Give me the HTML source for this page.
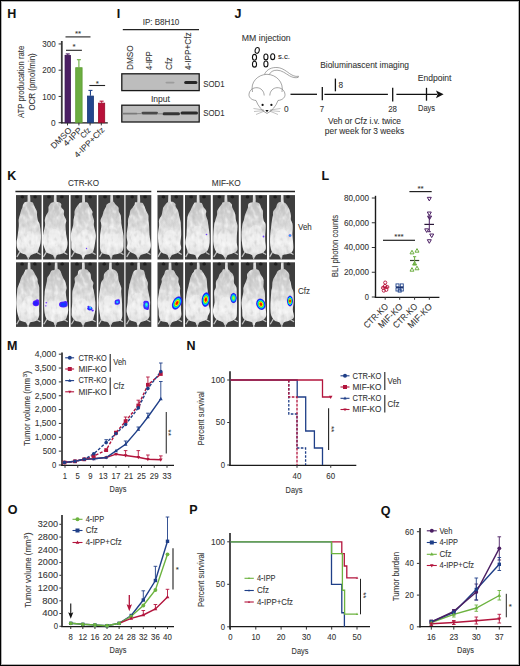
<!DOCTYPE html>
<html><head><meta charset="utf-8"><style>
html,body{margin:0;padding:0;background:#fff;}
.fig{position:relative;width:520px;height:666px;box-sizing:border-box;border:1px solid #000;overflow:hidden;background:#fff;box-shadow:inset 0 0 0 1px rgba(0,0,0,0.3);}
svg{position:absolute;left:-1px;top:-1px;font-family:"Liberation Sans", sans-serif;}
text{stroke:#333;stroke-width:0.08px;}
</style></head><body><div class="fig">
<svg width="520" height="666" viewBox="0 0 520 666">
<defs>
<filter id="bl1" x="-50%" y="-50%" width="200%" height="200%"><feGaussianBlur stdDeviation="0.75"/></filter>
<filter id="fur0" x="-10%" y="-10%" width="120%" height="120%"><feTurbulence type="fractalNoise" baseFrequency="0.24 0.15" numOctaves="2" seed="2" result="n"/>
<feColorMatrix in="n" type="matrix" values="0 0 0 0 0.45  0 0 0 0 0.45  0 0 0 0 0.45  -1.5 0 0 0 0.68" result="d"/>
<feColorMatrix in="n" type="matrix" values="0 0 0 0 1  0 0 0 0 1  0 0 0 0 1  1.6 0 0 0 -0.78" result="l"/>
<feComposite in="d" in2="SourceGraphic" operator="in" result="dn"/>
<feComposite in="l" in2="SourceGraphic" operator="in" result="ln"/>
<feMerge result="m"><feMergeNode in="SourceGraphic"/><feMergeNode in="dn"/><feMergeNode in="ln"/></feMerge>
<feGaussianBlur in="m" stdDeviation="0.55"/></filter>
<filter id="fur1" x="-10%" y="-10%" width="120%" height="120%"><feTurbulence type="fractalNoise" baseFrequency="0.24 0.15" numOctaves="2" seed="7" result="n"/>
<feColorMatrix in="n" type="matrix" values="0 0 0 0 0.45  0 0 0 0 0.45  0 0 0 0 0.45  -1.5 0 0 0 0.68" result="d"/>
<feColorMatrix in="n" type="matrix" values="0 0 0 0 1  0 0 0 0 1  0 0 0 0 1  1.6 0 0 0 -0.78" result="l"/>
<feComposite in="d" in2="SourceGraphic" operator="in" result="dn"/>
<feComposite in="l" in2="SourceGraphic" operator="in" result="ln"/>
<feMerge result="m"><feMergeNode in="SourceGraphic"/><feMergeNode in="dn"/><feMergeNode in="ln"/></feMerge>
<feGaussianBlur in="m" stdDeviation="0.55"/></filter>
<filter id="fur2" x="-10%" y="-10%" width="120%" height="120%"><feTurbulence type="fractalNoise" baseFrequency="0.24 0.15" numOctaves="2" seed="12" result="n"/>
<feColorMatrix in="n" type="matrix" values="0 0 0 0 0.45  0 0 0 0 0.45  0 0 0 0 0.45  -1.5 0 0 0 0.68" result="d"/>
<feColorMatrix in="n" type="matrix" values="0 0 0 0 1  0 0 0 0 1  0 0 0 0 1  1.6 0 0 0 -0.78" result="l"/>
<feComposite in="d" in2="SourceGraphic" operator="in" result="dn"/>
<feComposite in="l" in2="SourceGraphic" operator="in" result="ln"/>
<feMerge result="m"><feMergeNode in="SourceGraphic"/><feMergeNode in="dn"/><feMergeNode in="ln"/></feMerge>
<feGaussianBlur in="m" stdDeviation="0.55"/></filter>
<filter id="fur3" x="-10%" y="-10%" width="120%" height="120%"><feTurbulence type="fractalNoise" baseFrequency="0.24 0.15" numOctaves="2" seed="17" result="n"/>
<feColorMatrix in="n" type="matrix" values="0 0 0 0 0.45  0 0 0 0 0.45  0 0 0 0 0.45  -1.5 0 0 0 0.68" result="d"/>
<feColorMatrix in="n" type="matrix" values="0 0 0 0 1  0 0 0 0 1  0 0 0 0 1  1.6 0 0 0 -0.78" result="l"/>
<feComposite in="d" in2="SourceGraphic" operator="in" result="dn"/>
<feComposite in="l" in2="SourceGraphic" operator="in" result="ln"/>
<feMerge result="m"><feMergeNode in="SourceGraphic"/><feMergeNode in="dn"/><feMergeNode in="ln"/></feMerge>
<feGaussianBlur in="m" stdDeviation="0.55"/></filter>
<filter id="bl3" x="-50%" y="-50%" width="200%" height="200%"><feGaussianBlur stdDeviation="0.45"/></filter>
<filter id="bl2" x="-20%" y="-20%" width="140%" height="140%"><feGaussianBlur stdDeviation="0.5"/></filter>
<linearGradient id="mg" x1="0" y1="0" x2="0" y2="1"><stop offset="0.1" stop-color="#c8c8c8"/><stop offset="0.45" stop-color="#dcdcdc"/><stop offset="0.75" stop-color="#efefef"/><stop offset="1" stop-color="#d6d6d6"/></linearGradient>
<radialGradient id="bh"><stop offset="0" stop-color="#e80000"/><stop offset="0.22" stop-color="#ff3000"/><stop offset="0.38" stop-color="#ffe000"/><stop offset="0.52" stop-color="#30f040"/><stop offset="0.66" stop-color="#00d0ff"/><stop offset="0.82" stop-color="#0030ff"/><stop offset="1" stop-color="#5010e0" stop-opacity="0.85"/></radialGradient>
<radialGradient id="bw"><stop offset="0" stop-color="#ffe000"/><stop offset="0.35" stop-color="#40ff60"/><stop offset="0.6" stop-color="#00b0ff"/><stop offset="0.85" stop-color="#1020ff"/><stop offset="1" stop-color="#6020c0" stop-opacity="0.6"/></radialGradient>
<radialGradient id="bb"><stop offset="0" stop-color="#2040ff"/><stop offset="0.7" stop-color="#1818f0"/><stop offset="1" stop-color="#5020d0" stop-opacity="0.6"/></radialGradient>
<radialGradient id="bc"><stop offset="0" stop-color="#40e0ff"/><stop offset="0.45" stop-color="#00a0ff"/><stop offset="0.8" stop-color="#2020ff"/><stop offset="1" stop-color="#5020d0" stop-opacity="0.6"/></radialGradient>
</defs>
<text x="7.20" y="17.60" font-size="12.5" fill="#111" font-weight="bold">H</text>
<line x1="61.80" y1="41.00" x2="61.80" y2="123.30" stroke="#3a3a3a" stroke-width="1.8"/>
<line x1="60.90" y1="122.80" x2="107.80" y2="122.80" stroke="#1a1a1a" stroke-width="1.3"/>
<line x1="58.60" y1="122.70" x2="61.50" y2="122.70" stroke="#333" stroke-width="1"/>
<text x="55.70" y="125.80" font-size="8.8" fill="#333" text-anchor="end" textLength="4.60" lengthAdjust="spacingAndGlyphs">0</text>
<line x1="58.60" y1="96.45" x2="61.50" y2="96.45" stroke="#333" stroke-width="1"/>
<text x="55.70" y="99.55" font-size="8.8" fill="#333" text-anchor="end" textLength="13.40" lengthAdjust="spacingAndGlyphs">100</text>
<line x1="58.60" y1="70.20" x2="61.50" y2="70.20" stroke="#333" stroke-width="1"/>
<text x="55.70" y="73.30" font-size="8.8" fill="#333" text-anchor="end" textLength="13.40" lengthAdjust="spacingAndGlyphs">200</text>
<line x1="58.60" y1="43.95" x2="61.50" y2="43.95" stroke="#333" stroke-width="1"/>
<text x="55.70" y="47.05" font-size="8.8" fill="#333" text-anchor="end" textLength="13.40" lengthAdjust="spacingAndGlyphs">300</text>
<line x1="67.75" y1="54.97" x2="67.75" y2="53.92" stroke="#4b1f63" stroke-width="1.1"/>
<line x1="65.75" y1="53.92" x2="69.75" y2="53.92" stroke="#4b1f63" stroke-width="1.1"/>
<rect x="65.05" y="55.37" width="5.40" height="67.33" fill="#4b1f63" stroke="#3a1452" stroke-width="0.8"/>
<line x1="78.90" y1="67.31" x2="78.90" y2="59.70" stroke="#6cae40" stroke-width="1.1"/>
<line x1="76.90" y1="59.70" x2="80.90" y2="59.70" stroke="#6cae40" stroke-width="1.1"/>
<rect x="75.70" y="67.71" width="6.40" height="54.99" fill="#6cae40" stroke="#5c9c32" stroke-width="0.8"/>
<line x1="90.45" y1="95.66" x2="90.45" y2="90.41" stroke="#23468d" stroke-width="1.1"/>
<line x1="88.45" y1="90.41" x2="92.45" y2="90.41" stroke="#23468d" stroke-width="1.1"/>
<rect x="87.40" y="96.06" width="6.10" height="26.64" fill="#23468d" stroke="#1a3a78" stroke-width="0.8"/>
<line x1="101.60" y1="102.75" x2="101.60" y2="101.17" stroke="#b8113a" stroke-width="1.1"/>
<line x1="99.60" y1="101.17" x2="103.60" y2="101.17" stroke="#b8113a" stroke-width="1.1"/>
<rect x="98.50" y="103.15" width="6.20" height="19.55" fill="#b8113a" stroke="#980a2a" stroke-width="0.8"/>
<line x1="67.50" y1="122.70" x2="67.50" y2="125.40" stroke="#333" stroke-width="1"/>
<line x1="78.90" y1="122.70" x2="78.90" y2="125.40" stroke="#333" stroke-width="1"/>
<line x1="90.10" y1="122.70" x2="90.10" y2="125.40" stroke="#333" stroke-width="1"/>
<line x1="101.30" y1="122.70" x2="101.30" y2="125.40" stroke="#333" stroke-width="1"/>
<line x1="65.50" y1="36.90" x2="90.50" y2="36.90" stroke="#222" stroke-width="1.1"/>
<line x1="66.00" y1="50.30" x2="81.90" y2="50.30" stroke="#222" stroke-width="1.1"/>
<line x1="89.30" y1="85.50" x2="105.10" y2="85.50" stroke="#222" stroke-width="1.1"/>
<text x="78.00" y="35.50" font-size="8" fill="#333" text-anchor="middle">**</text>
<text x="74.00" y="49.00" font-size="8" fill="#333" text-anchor="middle">*</text>
<text x="97.40" y="85.50" font-size="8" fill="#333" text-anchor="middle">*</text>
<text x="24.20" y="81.90" font-size="8.2" fill="#333" text-anchor="middle" textLength="72.40" lengthAdjust="spacingAndGlyphs" transform="rotate(-90 24.20 81.90)">ATP producation rate</text>
<text x="35.00" y="81.90" font-size="8.2" fill="#333" text-anchor="middle" textLength="57.30" lengthAdjust="spacingAndGlyphs" transform="rotate(-90 35.00 81.90)">OCR (pmol/min)</text>
<text x="72.30" y="130.80" font-size="8.2" fill="#333" text-anchor="end" textLength="26.00" lengthAdjust="spacingAndGlyphs" transform="rotate(-45 72.30 130.80)">DMSO</text>
<text x="82.40" y="130.80" font-size="8.2" fill="#333" text-anchor="end" textLength="22.50" lengthAdjust="spacingAndGlyphs" transform="rotate(-45 82.40 130.80)">4-IPP</text>
<text x="91.20" y="131.00" font-size="8.2" fill="#333" text-anchor="end" textLength="11.00" lengthAdjust="spacingAndGlyphs" transform="rotate(-45 91.20 131.00)">Cfz</text>
<text x="105.00" y="130.60" font-size="8.2" fill="#333" text-anchor="end" textLength="39.00" lengthAdjust="spacingAndGlyphs" transform="rotate(-45 105.00 130.60)">4-IPP+Cfz</text>
<text x="116.80" y="17.60" font-size="12.5" fill="#111" font-weight="bold">I</text>
<text x="161.00" y="24.50" font-size="8.3" fill="#333" text-anchor="middle" textLength="36.70" lengthAdjust="spacingAndGlyphs">IP: B8H10</text>
<line x1="122.80" y1="29.70" x2="199.00" y2="29.70" stroke="#222" stroke-width="1.3"/>
<text x="133.00" y="70.00" font-size="8.3" fill="#333" textLength="24.70" lengthAdjust="spacingAndGlyphs" transform="rotate(-90 133.00 70.00)">DMSO</text>
<text x="152.10" y="70.00" font-size="8.3" fill="#333" textLength="18.70" lengthAdjust="spacingAndGlyphs" transform="rotate(-90 152.10 70.00)">4-IPP</text>
<text x="171.80" y="70.00" font-size="8.3" fill="#333" textLength="12.60" lengthAdjust="spacingAndGlyphs" transform="rotate(-90 171.80 70.00)">Cfz</text>
<text x="190.60" y="70.00" font-size="8.3" fill="#333" textLength="37.70" lengthAdjust="spacingAndGlyphs" transform="rotate(-90 190.60 70.00)">4-IPP+Cfz</text>
<rect x="121.8" y="73.80" width="77.4" height="16.8" fill="#bdbdbd" stroke="#1a1a1a" stroke-width="1.3"/>
<rect x="121.8" y="105.20" width="77.4" height="16.8" fill="#bdbdbd" stroke="#1a1a1a" stroke-width="1.3"/>
<g filter="url(#bl1)">
<rect x="184.2" y="81" width="13.2" height="3.0" rx="1.5" fill="#262626"/>
<rect x="165.5" y="81.8" width="9" height="1.6" rx="0.8" fill="#9c9c9c"/>
<rect x="122.5" y="112.7" width="15" height="1.8" rx="0.9" fill="#7a7a7a"/>
<rect x="141.5" y="111.8" width="16.5" height="2.6" rx="1.3" fill="#4a4a4a"/>
<rect x="162.5" y="112.3" width="17.5" height="3.0" rx="1.5" fill="#363636"/>
<rect x="180.5" y="111.6" width="17.5" height="3.0" rx="1.5" fill="#2c2c2c"/>
<rect x="137" y="113" width="5" height="1.2" fill="#8a8a8a"/>
<rect x="157.5" y="113.2" width="5.5" height="1.2" fill="#8a8a8a"/>
</g>
<text x="203.20" y="86.60" font-size="9.1" fill="#333" textLength="21.30" lengthAdjust="spacingAndGlyphs">SOD1</text>
<text x="203.20" y="116.00" font-size="9.1" fill="#333" textLength="21.30" lengthAdjust="spacingAndGlyphs">SOD1</text>
<text x="160.50" y="102.20" font-size="8.3" fill="#333" text-anchor="middle" textLength="19.00" lengthAdjust="spacingAndGlyphs">Input</text>
<text x="234.60" y="17.60" font-size="12.5" fill="#111" font-weight="bold">J</text>
<text x="241.80" y="41.20" font-size="8.4" fill="#333" textLength="48.80" lengthAdjust="spacingAndGlyphs">MM injection</text>
<ellipse cx="257.2" cy="50.4" rx="2.05" ry="2.95" fill="none" stroke="#111" stroke-width="1.1" transform="rotate(12 257.2 50.4)"/>
<ellipse cx="254.5" cy="57.3" rx="2.05" ry="2.95" fill="none" stroke="#111" stroke-width="1.1" transform="rotate(0 254.5 57.3)"/>
<ellipse cx="254.5" cy="64.2" rx="2.05" ry="2.95" fill="none" stroke="#111" stroke-width="1.1" transform="rotate(0 254.5 64.2)"/>
<ellipse cx="265.9" cy="56.9" rx="2.05" ry="2.95" fill="none" stroke="#111" stroke-width="1.1" transform="rotate(0 265.9 56.9)"/>
<ellipse cx="265.9" cy="64.0" rx="2.05" ry="2.95" fill="none" stroke="#111" stroke-width="1.1" transform="rotate(0 265.9 64.0)"/>
<ellipse cx="272.7" cy="56.7" rx="2.05" ry="2.95" fill="none" stroke="#111" stroke-width="1.1" transform="rotate(0 272.7 56.7)"/>
<text x="277.90" y="59.00" font-size="8" fill="#222" textLength="12.00" lengthAdjust="spacingAndGlyphs">s.c.</text>
<g fill="none" stroke="#6a6a6a" stroke-width="0.6">
<path d="M264.5,74.2 C267,69 272,67.3 277,67.5 C283,67.8 287,72 291,74.5 C294,76.3 296.5,76.7 298.5,76.2 L298.2,77.4 C295.5,78.2 292.5,77.5 289.5,75.8 C285.5,73.5 282,70.3 277,70.2 C273,70.1 270.5,72 269.3,74.4"/>
<path d="M252.5,92 C250,82 258,74.5 267,74.3 C276,74.5 284,82 282,92"/>
<path d="M256,100.5 C251,100 248.8,97 249,94.5 C249.3,90 253,87.5 257,87.7 C261,87.9 264,91 264.2,95.5"/>
<path d="M278,100.5 C283,100 285.2,97 285,94.5 C284.7,90 281,87.5 277,87.7 C273,87.9 270,91 269.8,95.5"/>
<path d="M256,100.5 C258,106 262,111 267,113.5 C272,111 276,106 278,100.5"/>
</g>
<g fill="#111"><circle cx="262.6" cy="104.9" r="1.1"/><circle cx="271.4" cy="104.9" r="1.1"/><path d="M265.3,110 L268.7,110 L267,112.2 Z"/></g>
<g stroke="#777" stroke-width="0.45" fill="none">
<path d="M264,110 L253.5,108.5 M264,110.6 L254,111.5 M264.5,111 L256,114.5"/>
<path d="M270,110 L280.5,108.5 M270,110.6 L280,111.5 M269.5,111 L278,114.5"/>
</g>
<text x="284.00" y="112.10" font-size="8.3" fill="#333" textLength="4.60" lengthAdjust="spacingAndGlyphs">0</text>
<line x1="290.50" y1="94.30" x2="317.00" y2="94.30" stroke="#111" stroke-width="1.3"/>
<line x1="322.30" y1="87.00" x2="322.30" y2="100.30" stroke="#111" stroke-width="1.3"/>
<line x1="324.40" y1="94.30" x2="387.90" y2="94.30" stroke="#111" stroke-width="1.3"/>
<line x1="335.40" y1="78.60" x2="335.40" y2="91.30" stroke="#111" stroke-width="1.3"/>
<line x1="392.70" y1="87.80" x2="392.70" y2="101.40" stroke="#111" stroke-width="1.3"/>
<line x1="396.40" y1="94.30" x2="437.00" y2="94.30" stroke="#111" stroke-width="1.3"/>
<line x1="426.50" y1="87.80" x2="426.50" y2="100.70" stroke="#111" stroke-width="1.3"/>
<path d="M436,90.4 L443.6,94.3 L436,98.2 L437.6,94.3 Z" fill="#111"/>
<text x="338.60" y="88.00" font-size="8.4" fill="#333" textLength="4.60" lengthAdjust="spacingAndGlyphs">8</text>
<text x="322.00" y="111.80" font-size="8.4" fill="#333" text-anchor="middle" textLength="4.40" lengthAdjust="spacingAndGlyphs">7</text>
<text x="392.60" y="111.80" font-size="8.4" fill="#333" text-anchor="middle" textLength="8.80" lengthAdjust="spacingAndGlyphs">28</text>
<text x="418.00" y="111.20" font-size="8.4" fill="#333" textLength="17.10" lengthAdjust="spacingAndGlyphs">Days</text>
<text x="417.70" y="80.70" font-size="8.4" fill="#333" textLength="33.80" lengthAdjust="spacingAndGlyphs">Endpoint</text>
<text x="320.20" y="68.00" font-size="8.4" fill="#333" textLength="88.80" lengthAdjust="spacingAndGlyphs">Bioluminascent imaging</text>
<text x="328.00" y="124.00" font-size="8.4" fill="#333" textLength="73.00" lengthAdjust="spacingAndGlyphs">Veh or Cfz i.v. twice</text>
<text x="324.80" y="133.60" font-size="8.4" fill="#333" textLength="79.30" lengthAdjust="spacingAndGlyphs">per week for 3 weeks</text>
<text x="7.20" y="179.60" font-size="12.5" fill="#111" font-weight="bold">K</text>
<text x="83.50" y="186.10" font-size="9" fill="#333" text-anchor="middle" textLength="31.00" lengthAdjust="spacingAndGlyphs">CTR-KO</text>
<text x="226.30" y="186.10" font-size="9" fill="#333" text-anchor="middle" textLength="29.00" lengthAdjust="spacingAndGlyphs">MIF-KO</text>
<line x1="15.40" y1="191.60" x2="151.30" y2="191.60" stroke="#222" stroke-width="1.5"/>
<line x1="157.00" y1="191.60" x2="295.00" y2="191.60" stroke="#222" stroke-width="1.5"/>
<text x="298.00" y="229.80" font-size="8.6" fill="#333" textLength="13.80" lengthAdjust="spacingAndGlyphs">Veh</text>
<text x="298.00" y="293.80" font-size="8.6" fill="#333" textLength="12.00" lengthAdjust="spacingAndGlyphs">Cfz</text>
<g transform="translate(16.00,195.10)">
<rect width="25.60" height="64.40" fill="#3e3e3e"/>
<g transform="translate(-0.06,0) scale(0.9846,0.9969)"><ellipse cx="6.5" cy="1.8" rx="1.9" ry="1.5" fill="#1e1e1e" filter="url(#bl2)"/><ellipse cx="19.5" cy="1.8" rx="1.9" ry="1.5" fill="#1e1e1e" filter="url(#bl2)"/><g filter="url(#fur0)"><path d="M11.97,0 L14.37,0 L14.67,8 L11.67,8 Z" fill="#d8d8d8"/><path d="M16.26,7.16 C17.59,7.53 17.45,8.30 17.91,9.10 C18.38,9.91 18.46,10.81 19.03,12.01 C19.60,13.22 20.94,15.06 21.33,16.35 C21.72,17.64 21.21,18.26 21.37,19.76 C21.52,21.27 21.80,23.76 22.26,25.37 C22.73,26.99 23.63,26.92 24.15,29.45 C24.67,31.98 25.25,37.44 25.37,40.56 C25.49,43.67 25.21,46.00 24.88,48.14 C24.55,50.28 23.94,51.86 23.38,53.42 C22.83,54.97 22.89,56.37 21.55,57.47 C20.21,58.57 16.67,59.16 15.35,60.00 C14.02,60.84 14.22,62.08 13.60,62.50 C12.98,62.92 12.19,62.92 11.60,62.50 C11.01,62.08 11.19,60.77 10.09,60.00 C8.98,59.23 6.42,58.97 4.98,57.88 C3.53,56.79 2.14,55.19 1.42,53.48 C0.70,51.78 0.60,49.88 0.67,47.68 C0.73,45.47 1.44,43.10 1.81,40.25 C2.18,37.40 2.74,33.18 2.90,30.59 C3.05,28.01 2.56,26.47 2.72,24.73 C2.89,23.00 3.51,21.62 3.90,20.19 C4.28,18.77 4.60,17.47 5.03,16.17 C5.47,14.87 6.07,13.61 6.49,12.41 C6.91,11.21 6.98,9.88 7.55,8.96 C8.13,8.04 8.49,7.19 9.94,6.89 C11.39,6.59 14.93,6.79 16.26,7.16 Z" fill="url(#mg)"/><path d="M4,57 L1.0,62 M21.5,57.5 L25,59.5 M12.6,62 L12.6,64.6" stroke="#c4c4c4" stroke-width="1.2" fill="none"/>
<ellipse cx="14.8" cy="44.8" rx="7" ry="9" fill="#f4f4f4" opacity="0.5"/>
</g></g></g>
<g transform="translate(43.10,195.10)">
<rect width="25.90" height="64.40" fill="#3e3e3e"/>
<g transform="translate(-0.60,0) scale(0.9962,0.9969)"><ellipse cx="6.5" cy="1.8" rx="1.9" ry="1.5" fill="#1e1e1e" filter="url(#bl2)"/><ellipse cx="19.5" cy="1.8" rx="1.9" ry="1.5" fill="#1e1e1e" filter="url(#bl2)"/><g filter="url(#fur1)"><path d="M11.55,0 L13.95,0 L14.25,8 L11.25,8 Z" fill="#d8d8d8"/><path d="M16.24,7.16 C17.73,7.41 18.33,8.05 18.76,8.88 C19.20,9.71 18.36,11.01 18.83,12.16 C19.30,13.30 21.18,14.45 21.60,15.72 C22.02,17.00 20.98,18.20 21.36,19.80 C21.73,21.40 23.54,23.66 23.84,25.31 C24.13,26.96 23.12,27.34 23.11,29.70 C23.10,32.06 23.44,36.49 23.78,39.47 C24.12,42.46 25.08,45.20 25.13,47.61 C25.19,50.02 24.81,52.16 24.11,53.94 C23.41,55.71 22.53,57.27 20.94,58.28 C19.36,59.29 15.81,59.30 14.59,60.00 C13.37,60.70 14.10,62.08 13.60,62.50 C13.10,62.92 12.15,62.92 11.60,62.50 C11.05,62.08 11.53,60.84 10.28,60.00 C9.04,59.16 5.47,58.52 4.13,57.49 C2.80,56.45 2.90,55.42 2.29,53.79 C1.68,52.17 0.79,49.91 0.48,47.71 C0.18,45.51 0.12,43.51 0.48,40.59 C0.84,37.66 2.34,32.79 2.64,30.17 C2.94,27.55 2.13,26.49 2.28,24.87 C2.43,23.26 2.95,21.88 3.55,20.46 C4.14,19.04 5.43,17.82 5.85,16.36 C6.27,14.91 5.77,12.97 6.08,11.72 C6.39,10.48 7.08,9.63 7.71,8.90 C8.34,8.18 8.41,7.66 9.84,7.37 C11.26,7.08 14.75,6.91 16.24,7.16 Z" fill="url(#mg)"/><path d="M4,57 L1.0,62 M21.5,57.5 L25,59.5 M12.6,62 L12.6,64.6" stroke="#c4c4c4" stroke-width="1.2" fill="none"/>
<ellipse cx="12.0" cy="42.8" rx="7" ry="9" fill="#f4f4f4" opacity="0.5"/>
</g></g></g>
<g transform="translate(70.60,195.10)">
<rect width="26.20" height="64.40" fill="#3e3e3e"/>
<g transform="translate(-0.15,0) scale(1.0077,0.9969)"><ellipse cx="6.5" cy="1.8" rx="1.9" ry="1.5" fill="#1e1e1e" filter="url(#bl2)"/><ellipse cx="19.5" cy="1.8" rx="1.9" ry="1.5" fill="#1e1e1e" filter="url(#bl2)"/><g filter="url(#fur2)"><path d="M11.84,0 L14.24,0 L14.54,8 L11.54,8 Z" fill="#d8d8d8"/><path d="M16.33,7.18 C17.66,7.49 17.58,8.71 18.03,9.44 C18.48,10.17 18.40,10.43 19.03,11.58 C19.66,12.74 21.40,15.04 21.84,16.38 C22.27,17.72 21.38,18.10 21.65,19.63 C21.92,21.15 23.16,23.71 23.43,25.53 C23.70,27.35 22.96,28.11 23.25,30.54 C23.55,32.97 24.99,37.29 25.19,40.12 C25.39,42.95 24.80,45.12 24.46,47.52 C24.12,49.93 23.74,52.77 23.17,54.56 C22.60,56.34 22.41,57.34 21.03,58.25 C19.64,59.15 16.10,59.29 14.86,60.00 C13.62,60.71 14.14,62.08 13.60,62.50 C13.06,62.92 12.10,62.92 11.60,62.50 C11.10,62.08 11.75,60.82 10.59,60.00 C9.43,59.18 6.19,58.58 4.63,57.56 C3.07,56.53 1.84,55.52 1.22,53.84 C0.60,52.16 1.05,49.83 0.90,47.47 C0.75,45.12 0.02,42.69 0.33,39.72 C0.64,36.75 2.31,32.14 2.75,29.64 C3.20,27.15 2.80,26.27 3.01,24.74 C3.22,23.20 3.80,21.93 4.01,20.42 C4.21,18.91 3.89,17.03 4.22,15.67 C4.56,14.31 5.29,13.42 6.02,12.26 C6.74,11.11 7.90,9.53 8.57,8.75 C9.25,7.97 8.77,7.85 10.06,7.59 C11.35,7.33 15.00,6.87 16.33,7.18 Z" fill="url(#mg)"/><path d="M4,57 L1.0,62 M21.5,57.5 L25,59.5 M12.6,62 L12.6,64.6" stroke="#c4c4c4" stroke-width="1.2" fill="none"/>
<ellipse cx="14.9" cy="43.3" rx="7" ry="9" fill="#f4f4f4" opacity="0.5"/>
</g></g></g>
<g transform="translate(98.30,195.10)">
<rect width="26.00" height="64.40" fill="#3e3e3e"/>
<g transform="translate(0.23,0) scale(1.0000,0.9969)"><ellipse cx="6.5" cy="1.8" rx="1.9" ry="1.5" fill="#1e1e1e" filter="url(#bl2)"/><ellipse cx="19.5" cy="1.8" rx="1.9" ry="1.5" fill="#1e1e1e" filter="url(#bl2)"/><g filter="url(#fur3)"><path d="M12.00,0 L14.40,0 L14.70,8 L11.70,8 Z" fill="#d8d8d8"/><path d="M14.85,6.64 C15.82,6.95 16.18,8.51 17.03,9.49 C17.88,10.48 19.43,11.44 19.96,12.56 C20.50,13.67 19.89,14.88 20.24,16.16 C20.59,17.45 21.66,18.70 22.07,20.28 C22.47,21.85 22.51,23.97 22.67,25.60 C22.84,27.23 22.66,27.58 23.04,30.06 C23.41,32.54 24.59,37.45 24.93,40.48 C25.26,43.51 25.09,45.91 25.03,48.24 C24.96,50.58 25.16,52.84 24.53,54.50 C23.90,56.16 22.90,57.31 21.23,58.22 C19.57,59.14 15.80,59.29 14.53,60.00 C13.26,60.71 14.09,62.08 13.60,62.50 C13.11,62.92 12.15,62.92 11.60,62.50 C11.05,62.08 11.61,60.70 10.30,60.00 C8.99,59.30 5.19,59.23 3.75,58.30 C2.32,57.37 2.08,56.11 1.69,54.41 C1.30,52.71 1.44,50.52 1.42,48.10 C1.41,45.67 1.37,42.81 1.61,39.87 C1.85,36.93 2.82,32.91 2.89,30.46 C2.96,28.01 1.85,26.89 2.04,25.17 C2.24,23.45 3.52,21.68 4.05,20.13 C4.58,18.58 4.69,17.20 5.22,15.86 C5.76,14.52 6.75,13.17 7.25,12.09 C7.76,11.00 7.59,10.09 8.25,9.35 C8.91,8.61 10.12,8.10 11.22,7.65 C12.32,7.19 13.88,6.33 14.85,6.64 Z" fill="url(#mg)"/><path d="M4,57 L1.0,62 M21.5,57.5 L25,59.5 M12.6,62 L12.6,64.6" stroke="#c4c4c4" stroke-width="1.2" fill="none"/>
<ellipse cx="12.9" cy="39.8" rx="7" ry="9" fill="#f4f4f4" opacity="0.5"/>
</g></g></g>
<g transform="translate(125.50,195.10)">
<rect width="25.80" height="64.40" fill="#3e3e3e"/>
<g transform="translate(0.24,0) scale(0.9923,0.9969)"><ellipse cx="6.5" cy="1.8" rx="1.9" ry="1.5" fill="#1e1e1e" filter="url(#bl2)"/><ellipse cx="19.5" cy="1.8" rx="1.9" ry="1.5" fill="#1e1e1e" filter="url(#bl2)"/><g filter="url(#fur0)"><path d="M11.90,0 L14.30,0 L14.60,8 L11.60,8 Z" fill="#d8d8d8"/><path d="M15.71,7.70 C16.98,7.91 16.87,7.66 17.46,8.41 C18.05,9.17 18.72,11.02 19.24,12.21 C19.76,13.41 19.97,14.27 20.56,15.60 C21.16,16.93 22.44,18.55 22.83,20.19 C23.22,21.84 22.79,23.80 22.90,25.47 C23.01,27.14 23.31,27.79 23.49,30.20 C23.67,32.61 23.68,36.87 23.96,39.92 C24.23,42.97 25.03,46.17 25.15,48.50 C25.27,50.82 25.27,52.31 24.68,53.86 C24.10,55.41 23.23,56.76 21.65,57.78 C20.07,58.80 16.55,59.21 15.21,60.00 C13.87,60.79 14.20,62.08 13.60,62.50 C13.00,62.92 12.15,62.92 11.60,62.50 C11.05,62.08 11.34,60.84 10.27,60.00 C9.20,59.16 6.71,58.54 5.17,57.45 C3.63,56.36 1.58,55.02 1.03,53.44 C0.48,51.85 1.90,50.11 1.87,47.94 C1.84,45.77 0.81,43.40 0.87,40.41 C0.93,37.42 1.99,32.58 2.23,29.99 C2.46,27.41 2.02,26.61 2.29,24.90 C2.55,23.19 3.43,21.28 3.81,19.73 C4.20,18.18 4.07,16.80 4.60,15.60 C5.13,14.40 6.25,13.57 6.98,12.54 C7.71,11.51 8.53,10.31 9.01,9.42 C9.48,8.53 8.73,7.48 9.85,7.20 C10.96,6.91 14.44,7.50 15.71,7.70 Z" fill="url(#mg)"/><path d="M4,57 L1.0,62 M21.5,57.5 L25,59.5 M12.6,62 L12.6,64.6" stroke="#c4c4c4" stroke-width="1.2" fill="none"/>
<ellipse cx="12.2" cy="44.3" rx="7" ry="9" fill="#f4f4f4" opacity="0.5"/>
</g></g></g>
<g transform="translate(157.50,195.10)">
<rect width="25.80" height="64.40" fill="#3e3e3e"/>
<g transform="translate(-0.58,0) scale(0.9923,0.9969)"><ellipse cx="6.5" cy="1.8" rx="1.9" ry="1.5" fill="#1e1e1e" filter="url(#bl2)"/><ellipse cx="19.5" cy="1.8" rx="1.9" ry="1.5" fill="#1e1e1e" filter="url(#bl2)"/><g filter="url(#fur1)"><path d="M11.46,0 L13.86,0 L14.16,8 L11.16,8 Z" fill="#d8d8d8"/><path d="M15.42,6.63 C16.69,6.87 17.90,7.88 18.49,8.68 C19.08,9.49 18.48,10.25 18.95,11.46 C19.43,12.66 20.77,14.48 21.33,15.94 C21.90,17.39 21.96,18.58 22.33,20.19 C22.70,21.79 23.25,23.97 23.55,25.55 C23.85,27.13 23.98,27.30 24.13,29.64 C24.28,31.98 24.52,36.56 24.46,39.61 C24.39,42.67 23.73,45.63 23.72,47.97 C23.71,50.30 24.82,51.97 24.39,53.61 C23.95,55.26 22.62,56.75 21.09,57.81 C19.56,58.88 16.47,59.22 15.22,60.00 C13.97,60.78 14.20,62.08 13.60,62.50 C13.00,62.92 12.11,62.92 11.60,62.50 C11.09,62.08 11.66,60.81 10.52,60.00 C9.38,59.19 6.09,58.65 4.77,57.65 C3.45,56.64 3.11,55.50 2.60,53.96 C2.08,52.41 1.95,50.67 1.68,48.36 C1.41,46.04 0.89,43.06 0.98,40.08 C1.07,37.11 2.03,33.02 2.23,30.49 C2.42,27.97 1.73,26.65 2.13,24.94 C2.54,23.24 4.08,21.84 4.68,20.27 C5.28,18.69 5.44,16.82 5.73,15.50 C6.02,14.19 5.93,13.38 6.41,12.35 C6.89,11.32 7.86,10.16 8.61,9.31 C9.35,8.45 9.72,7.67 10.86,7.22 C11.99,6.78 14.15,6.39 15.42,6.63 Z" fill="url(#mg)"/><path d="M4,57 L1.0,62 M21.5,57.5 L25,59.5 M12.6,62 L12.6,64.6" stroke="#c4c4c4" stroke-width="1.2" fill="none"/>
<ellipse cx="13.6" cy="43.7" rx="7" ry="9" fill="#f4f4f4" opacity="0.5"/>
</g></g></g>
<g transform="translate(185.00,195.10)">
<rect width="25.80" height="64.40" fill="#3e3e3e"/>
<g transform="translate(-0.34,0) scale(0.9923,0.9969)"><ellipse cx="6.5" cy="1.8" rx="1.9" ry="1.5" fill="#1e1e1e" filter="url(#bl2)"/><ellipse cx="19.5" cy="1.8" rx="1.9" ry="1.5" fill="#1e1e1e" filter="url(#bl2)"/><g filter="url(#fur2)"><path d="M12.38,0 L14.78,0 L15.08,8 L12.08,8 Z" fill="#d8d8d8"/><path d="M16.36,7.77 C17.60,8.09 17.48,8.56 17.97,9.35 C18.45,10.14 18.65,11.41 19.28,12.49 C19.91,13.57 21.40,14.58 21.74,15.82 C22.09,17.06 21.12,18.35 21.35,19.93 C21.57,21.51 22.69,23.74 23.09,25.32 C23.50,26.91 23.45,27.07 23.78,29.43 C24.11,31.79 24.83,36.45 25.06,39.48 C25.28,42.51 25.37,45.13 25.14,47.61 C24.91,50.09 24.42,52.68 23.70,54.35 C22.99,56.01 22.23,56.64 20.85,57.58 C19.48,58.52 16.68,59.18 15.47,60.00 C14.26,60.82 14.24,62.08 13.60,62.50 C12.96,62.92 12.16,62.92 11.60,62.50 C11.04,62.08 11.50,60.68 10.22,60.00 C8.95,59.32 5.28,59.34 3.97,58.42 C2.67,57.50 2.97,56.24 2.42,54.48 C1.87,52.72 0.76,50.26 0.66,47.86 C0.56,45.46 1.55,43.04 1.82,40.07 C2.08,37.10 2.15,32.49 2.25,30.03 C2.35,27.56 2.23,26.94 2.42,25.27 C2.61,23.61 2.83,21.66 3.40,20.03 C3.96,18.40 5.14,16.84 5.81,15.50 C6.48,14.16 6.87,13.04 7.40,11.99 C7.94,10.95 8.49,9.98 9.01,9.23 C9.53,8.47 9.30,7.71 10.53,7.47 C11.76,7.23 15.13,7.46 16.36,7.77 Z" fill="url(#mg)"/><path d="M4,57 L1.0,62 M21.5,57.5 L25,59.5 M12.6,62 L12.6,64.6" stroke="#c4c4c4" stroke-width="1.2" fill="none"/>
<ellipse cx="13.3" cy="39.6" rx="7" ry="9" fill="#f4f4f4" opacity="0.5"/>
</g></g></g>
<g transform="translate(212.80,195.10)">
<rect width="26.00" height="64.40" fill="#3e3e3e"/>
<g transform="translate(0.04,0) scale(1.0000,0.9969)"><ellipse cx="6.5" cy="1.8" rx="1.9" ry="1.5" fill="#1e1e1e" filter="url(#bl2)"/><ellipse cx="19.5" cy="1.8" rx="1.9" ry="1.5" fill="#1e1e1e" filter="url(#bl2)"/><g filter="url(#fur3)"><path d="M11.90,0 L14.30,0 L14.60,8 L11.60,8 Z" fill="#d8d8d8"/><path d="M15.69,6.63 C17.16,6.91 18.12,8.06 18.74,9.02 C19.37,9.97 19.01,11.20 19.42,12.36 C19.83,13.52 20.71,14.80 21.21,15.99 C21.72,17.18 22.13,17.99 22.44,19.48 C22.75,20.96 22.71,23.06 23.07,24.90 C23.43,26.73 24.45,28.00 24.62,30.51 C24.79,33.02 24.20,37.07 24.08,39.97 C23.97,42.87 23.85,45.50 23.93,47.92 C24.01,50.34 24.98,52.84 24.57,54.48 C24.16,56.12 23.05,56.86 21.46,57.78 C19.87,58.70 16.34,59.21 15.03,60.00 C13.72,60.79 14.17,62.08 13.60,62.50 C13.03,62.92 12.22,62.92 11.60,62.50 C10.98,62.08 11.08,60.77 9.86,60.00 C8.64,59.23 5.61,58.91 4.28,57.90 C2.94,56.88 2.48,55.63 1.85,53.92 C1.23,52.21 0.77,49.96 0.55,47.64 C0.33,45.32 0.40,42.91 0.52,40.01 C0.64,37.12 0.95,32.76 1.29,30.28 C1.63,27.80 2.05,26.89 2.54,25.14 C3.03,23.40 3.92,21.37 4.24,19.79 C4.55,18.21 3.97,17.07 4.45,15.67 C4.93,14.28 6.32,12.61 7.10,11.43 C7.89,10.24 8.69,9.24 9.17,8.56 C9.64,7.87 8.86,7.66 9.94,7.34 C11.03,7.02 14.22,6.35 15.69,6.63 Z" fill="url(#mg)"/><path d="M4,57 L1.0,62 M21.5,57.5 L25,59.5 M12.6,62 L12.6,64.6" stroke="#c4c4c4" stroke-width="1.2" fill="none"/>
<ellipse cx="11.8" cy="43.1" rx="7" ry="9" fill="#f4f4f4" opacity="0.5"/>
</g></g></g>
<g transform="translate(240.80,195.10)">
<rect width="26.20" height="64.40" fill="#3e3e3e"/>
<g transform="translate(0.17,0) scale(1.0077,0.9969)"><ellipse cx="6.5" cy="1.8" rx="1.9" ry="1.5" fill="#1e1e1e" filter="url(#bl2)"/><ellipse cx="19.5" cy="1.8" rx="1.9" ry="1.5" fill="#1e1e1e" filter="url(#bl2)"/><g filter="url(#fur0)"><path d="M11.94,0 L14.34,0 L14.64,8 L11.64,8 Z" fill="#d8d8d8"/><path d="M16.13,7.33 C17.50,7.54 17.89,7.84 18.54,8.68 C19.19,9.52 19.49,11.19 20.03,12.37 C20.58,13.56 21.54,14.42 21.82,15.78 C22.11,17.13 21.66,18.87 21.77,20.51 C21.88,22.14 22.04,24.09 22.49,25.60 C22.95,27.11 24.24,27.12 24.50,29.56 C24.75,32.01 24.09,37.28 24.03,40.27 C23.98,43.26 24.07,45.24 24.17,47.52 C24.26,49.79 24.96,52.23 24.60,53.91 C24.24,55.58 23.56,56.54 22.02,57.55 C20.48,58.57 16.74,59.18 15.34,60.00 C13.94,60.82 14.22,62.08 13.60,62.50 C12.98,62.92 12.08,62.92 11.60,62.50 C11.12,62.08 11.97,60.81 10.69,60.00 C9.41,59.19 5.39,58.72 3.93,57.64 C2.47,56.57 2.40,55.18 1.92,53.58 C1.45,51.97 1.33,50.37 1.09,48.02 C0.85,45.66 0.43,42.53 0.49,39.44 C0.55,36.36 1.05,31.86 1.44,29.48 C1.83,27.11 2.39,26.75 2.81,25.22 C3.22,23.69 3.40,21.92 3.91,20.31 C4.42,18.70 5.34,16.84 5.84,15.54 C6.35,14.24 6.65,13.64 6.93,12.49 C7.21,11.34 6.97,9.49 7.53,8.64 C8.10,7.80 8.89,7.64 10.33,7.42 C11.76,7.20 14.76,7.12 16.13,7.33 Z" fill="url(#mg)"/><path d="M4,57 L1.0,62 M21.5,57.5 L25,59.5 M12.6,62 L12.6,64.6" stroke="#c4c4c4" stroke-width="1.2" fill="none"/>
<ellipse cx="14.7" cy="38.8" rx="7" ry="9" fill="#f4f4f4" opacity="0.5"/>
</g></g></g>
<g transform="translate(269.20,195.10)">
<rect width="25.80" height="64.40" fill="#3e3e3e"/>
<g transform="translate(-0.53,0) scale(0.9923,0.9969)"><ellipse cx="6.5" cy="1.8" rx="1.9" ry="1.5" fill="#1e1e1e" filter="url(#bl2)"/><ellipse cx="19.5" cy="1.8" rx="1.9" ry="1.5" fill="#1e1e1e" filter="url(#bl2)"/><g filter="url(#fur1)"><path d="M12.44,0 L14.84,0 L15.14,8 L12.14,8 Z" fill="#d8d8d8"/><path d="M15.43,7.52 C16.57,7.83 16.89,8.23 17.59,8.96 C18.29,9.69 19.01,10.84 19.63,11.92 C20.24,12.99 20.81,14.00 21.28,15.42 C21.75,16.83 22.27,18.82 22.46,20.41 C22.65,22.00 22.13,23.37 22.43,24.94 C22.72,26.52 23.98,27.44 24.23,29.89 C24.48,32.33 23.89,36.68 23.95,39.60 C24.02,42.52 24.50,44.96 24.62,47.42 C24.75,49.88 25.17,52.53 24.71,54.36 C24.25,56.20 23.57,57.49 21.87,58.43 C20.17,59.37 15.89,59.32 14.51,60.00 C13.13,60.68 14.09,62.08 13.60,62.50 C13.11,62.92 12.19,62.92 11.60,62.50 C11.01,62.08 11.29,60.76 10.06,60.00 C8.82,59.24 5.52,59.05 4.22,57.96 C2.91,56.88 2.66,55.16 2.20,53.48 C1.74,51.81 1.59,50.08 1.48,47.89 C1.37,45.69 1.34,43.23 1.55,40.32 C1.76,37.42 2.41,33.03 2.71,30.46 C3.02,27.88 3.10,26.57 3.37,24.89 C3.64,23.20 4.14,21.73 4.34,20.33 C4.54,18.93 4.04,17.82 4.56,16.49 C5.09,15.17 6.80,13.61 7.47,12.37 C8.14,11.12 8.04,9.89 8.58,9.01 C9.12,8.13 9.59,7.33 10.73,7.09 C11.87,6.84 14.29,7.21 15.43,7.52 Z" fill="url(#mg)"/><path d="M4,57 L1.0,62 M21.5,57.5 L25,59.5 M12.6,62 L12.6,64.6" stroke="#c4c4c4" stroke-width="1.2" fill="none"/>
<ellipse cx="13.6" cy="43.0" rx="7" ry="9" fill="#f4f4f4" opacity="0.5"/>
</g></g></g>
<g transform="translate(16.00,262.30)">
<rect width="25.60" height="64.60" fill="#3e3e3e"/>
<g transform="translate(-0.32,0) scale(0.9846,1.0000)"><ellipse cx="6.5" cy="1.8" rx="1.9" ry="1.5" fill="#1e1e1e" filter="url(#bl2)"/><ellipse cx="19.5" cy="1.8" rx="1.9" ry="1.5" fill="#1e1e1e" filter="url(#bl2)"/><g filter="url(#fur2)"><path d="M12.43,0 L14.83,0 L15.13,8 L12.13,8 Z" fill="#d8d8d8"/><path d="M15.80,7.01 C17.07,7.32 17.54,8.27 18.19,9.08 C18.83,9.89 19.02,10.69 19.66,11.87 C20.29,13.05 21.53,14.76 22.00,16.17 C22.47,17.58 22.15,18.94 22.46,20.31 C22.77,21.69 23.61,22.77 23.86,24.43 C24.12,26.09 23.97,27.71 24.01,30.29 C24.04,32.86 24.10,36.99 24.06,39.88 C24.03,42.77 23.84,45.36 23.79,47.63 C23.74,49.91 24.23,51.71 23.78,53.52 C23.32,55.33 22.54,57.41 21.05,58.49 C19.57,59.57 16.11,59.33 14.87,60.00 C13.62,60.67 14.14,62.08 13.60,62.50 C13.06,62.92 12.20,62.92 11.60,62.50 C11.00,62.08 11.16,60.73 9.99,60.00 C8.81,59.27 5.78,59.13 4.55,58.12 C3.32,57.10 3.16,55.68 2.60,53.90 C2.04,52.13 1.53,49.79 1.20,47.47 C0.87,45.15 0.57,42.91 0.60,39.99 C0.64,37.08 1.16,32.38 1.39,29.97 C1.62,27.55 1.53,27.13 1.98,25.52 C2.43,23.91 3.48,21.98 4.08,20.31 C4.67,18.64 4.99,16.85 5.56,15.49 C6.13,14.13 6.88,13.23 7.49,12.17 C8.11,11.10 8.72,9.91 9.24,9.08 C9.76,8.26 9.50,7.56 10.59,7.21 C11.68,6.86 14.53,6.69 15.80,7.01 Z" fill="url(#mg)"/><path d="M4,57 L1.0,62 M21.5,57.5 L25,59.5 M12.6,62 L12.6,64.6" stroke="#c4c4c4" stroke-width="1.2" fill="none"/>
<ellipse cx="13.6" cy="42.5" rx="7" ry="9" fill="#f4f4f4" opacity="0.5"/>
</g></g></g>
<g transform="translate(43.10,262.30)">
<rect width="25.90" height="64.60" fill="#3e3e3e"/>
<g transform="translate(-0.26,0) scale(0.9962,1.0000)"><ellipse cx="6.5" cy="1.8" rx="1.9" ry="1.5" fill="#1e1e1e" filter="url(#bl2)"/><ellipse cx="19.5" cy="1.8" rx="1.9" ry="1.5" fill="#1e1e1e" filter="url(#bl2)"/><g filter="url(#fur3)"><path d="M12.16,0 L14.56,0 L14.86,8 L11.86,8 Z" fill="#d8d8d8"/><path d="M15.13,6.62 C16.15,6.76 16.80,7.50 17.44,8.45 C18.08,9.40 18.41,10.97 18.98,12.31 C19.56,13.64 20.31,15.28 20.90,16.48 C21.50,17.67 22.05,17.95 22.55,19.46 C23.04,20.97 23.80,23.70 23.88,25.53 C23.96,27.37 22.95,28.08 23.03,30.49 C23.11,32.89 23.97,37.11 24.37,39.97 C24.78,42.84 25.51,45.27 25.45,47.69 C25.40,50.12 24.63,52.81 24.04,54.52 C23.45,56.24 23.47,57.05 21.90,57.96 C20.33,58.87 16.00,59.24 14.61,60.00 C13.23,60.76 14.10,62.08 13.60,62.50 C13.10,62.92 12.10,62.92 11.60,62.50 C11.10,62.08 11.71,60.80 10.59,60.00 C9.48,59.20 6.24,58.60 4.92,57.69 C3.61,56.78 3.27,56.15 2.70,54.54 C2.13,52.93 1.72,50.48 1.50,48.04 C1.28,45.60 1.28,42.96 1.35,39.90 C1.42,36.85 1.70,32.16 1.92,29.71 C2.14,27.26 2.36,26.90 2.70,25.20 C3.04,23.51 3.66,21.17 3.95,19.55 C4.25,17.93 3.99,16.73 4.47,15.46 C4.95,14.20 6.14,13.10 6.82,11.95 C7.51,10.79 7.83,9.27 8.59,8.54 C9.34,7.81 10.27,7.90 11.36,7.58 C12.45,7.26 14.12,6.47 15.13,6.62 Z" fill="url(#mg)"/><path d="M4,57 L1.0,62 M21.5,57.5 L25,59.5 M12.6,62 L12.6,64.6" stroke="#c4c4c4" stroke-width="1.2" fill="none"/>
<ellipse cx="14.1" cy="43.0" rx="7" ry="9" fill="#f4f4f4" opacity="0.5"/>
</g></g></g>
<g transform="translate(70.60,262.30)">
<rect width="26.20" height="64.60" fill="#3e3e3e"/>
<g transform="translate(-0.17,0) scale(1.0077,1.0000)"><ellipse cx="6.5" cy="1.8" rx="1.9" ry="1.5" fill="#1e1e1e" filter="url(#bl2)"/><ellipse cx="19.5" cy="1.8" rx="1.9" ry="1.5" fill="#1e1e1e" filter="url(#bl2)"/><g filter="url(#fur0)"><path d="M11.63,0 L14.03,0 L14.33,8 L11.33,8 Z" fill="#d8d8d8"/><path d="M15.83,7.28 C17.13,7.61 17.36,8.43 18.07,9.16 C18.77,9.88 19.63,10.39 20.06,11.63 C20.49,12.86 20.18,15.10 20.65,16.58 C21.11,18.05 22.59,19.14 22.85,20.45 C23.10,21.77 22.08,22.90 22.17,24.47 C22.26,26.05 22.96,27.40 23.39,29.91 C23.81,32.42 24.51,36.59 24.72,39.52 C24.94,42.45 24.92,45.04 24.67,47.49 C24.43,49.94 23.77,52.43 23.26,54.21 C22.74,55.99 22.98,57.19 21.59,58.16 C20.20,59.12 16.26,59.28 14.93,60.00 C13.60,60.72 14.15,62.08 13.60,62.50 C13.05,62.92 12.19,62.92 11.60,62.50 C11.01,62.08 11.18,60.67 10.07,60.00 C8.96,59.33 6.37,59.50 4.94,58.50 C3.51,57.51 2.10,55.71 1.49,54.06 C0.87,52.41 1.23,50.96 1.28,48.59 C1.32,46.22 1.66,42.99 1.76,39.84 C1.86,36.70 1.61,32.24 1.86,29.71 C2.12,27.18 2.85,26.25 3.28,24.66 C3.72,23.06 4.30,21.67 4.46,20.15 C4.61,18.63 3.80,16.83 4.23,15.54 C4.66,14.25 6.43,13.53 7.04,12.41 C7.65,11.28 7.34,9.68 7.88,8.81 C8.42,7.94 8.95,7.43 10.27,7.17 C11.60,6.92 14.53,6.95 15.83,7.28 Z" fill="url(#mg)"/><path d="M4,57 L1.0,62 M21.5,57.5 L25,59.5 M12.6,62 L12.6,64.6" stroke="#c4c4c4" stroke-width="1.2" fill="none"/>
<ellipse cx="11.4" cy="45.0" rx="7" ry="9" fill="#f4f4f4" opacity="0.5"/>
</g></g></g>
<g transform="translate(98.30,262.30)">
<rect width="26.00" height="64.60" fill="#3e3e3e"/>
<g transform="translate(-0.51,0) scale(1.0000,1.0000)"><ellipse cx="6.5" cy="1.8" rx="1.9" ry="1.5" fill="#1e1e1e" filter="url(#bl2)"/><ellipse cx="19.5" cy="1.8" rx="1.9" ry="1.5" fill="#1e1e1e" filter="url(#bl2)"/><g filter="url(#fur1)"><path d="M11.40,0 L13.80,0 L14.10,8 L11.10,8 Z" fill="#d8d8d8"/><path d="M15.62,7.18 C16.78,7.45 17.49,8.04 18.23,8.76 C18.98,9.48 19.70,10.25 20.10,11.49 C20.49,12.73 20.38,14.82 20.58,16.19 C20.79,17.57 20.88,18.26 21.35,19.76 C21.82,21.27 23.06,23.60 23.40,25.23 C23.75,26.87 23.27,27.07 23.41,29.57 C23.55,32.08 24.09,37.28 24.24,40.27 C24.40,43.27 24.34,45.24 24.36,47.54 C24.38,49.84 24.73,52.25 24.38,54.08 C24.03,55.91 23.75,57.54 22.25,58.53 C20.75,59.51 16.82,59.34 15.38,60.00 C13.94,60.66 14.23,62.08 13.60,62.50 C12.97,62.92 12.20,62.92 11.60,62.50 C11.00,62.08 11.26,60.70 9.98,60.00 C8.70,59.30 5.18,59.30 3.92,58.31 C2.66,57.32 2.80,55.79 2.41,54.08 C2.01,52.36 1.83,50.38 1.53,48.05 C1.24,45.72 0.60,43.11 0.65,40.08 C0.70,37.05 1.49,32.41 1.81,29.87 C2.13,27.32 2.29,26.51 2.56,24.84 C2.83,23.16 2.91,21.23 3.45,19.83 C3.98,18.44 5.31,17.80 5.78,16.47 C6.25,15.15 5.74,13.16 6.27,11.88 C6.80,10.59 8.12,9.56 8.95,8.77 C9.77,7.97 10.13,7.39 11.24,7.13 C12.36,6.86 14.45,6.91 15.62,7.18 Z" fill="url(#mg)"/><path d="M4,57 L1.0,62 M21.5,57.5 L25,59.5 M12.6,62 L12.6,64.6" stroke="#c4c4c4" stroke-width="1.2" fill="none"/>
<ellipse cx="11.1" cy="42.1" rx="7" ry="9" fill="#f4f4f4" opacity="0.5"/>
</g></g></g>
<g transform="translate(125.50,262.30)">
<rect width="25.80" height="64.60" fill="#3e3e3e"/>
<g transform="translate(0.05,0) scale(0.9923,1.0000)"><ellipse cx="6.5" cy="1.8" rx="1.9" ry="1.5" fill="#1e1e1e" filter="url(#bl2)"/><ellipse cx="19.5" cy="1.8" rx="1.9" ry="1.5" fill="#1e1e1e" filter="url(#bl2)"/><g filter="url(#fur2)"><path d="M11.98,0 L14.38,0 L14.68,8 L11.68,8 Z" fill="#d8d8d8"/><path d="M16.34,7.38 C17.52,7.56 17.89,7.65 18.45,8.48 C19.01,9.30 19.37,11.18 19.68,12.35 C20.00,13.52 19.88,14.14 20.35,15.50 C20.83,16.85 22.21,18.87 22.53,20.48 C22.84,22.09 22.15,23.52 22.25,25.16 C22.36,26.80 22.74,27.87 23.16,30.29 C23.58,32.72 24.61,36.69 24.77,39.69 C24.92,42.70 24.22,45.88 24.10,48.32 C23.98,50.76 24.50,52.74 24.04,54.32 C23.57,55.90 22.78,56.86 21.31,57.81 C19.84,58.75 16.53,59.22 15.24,60.00 C13.96,60.78 14.21,62.08 13.60,62.50 C12.99,62.92 12.08,62.92 11.60,62.50 C11.12,62.08 11.90,60.82 10.69,60.00 C9.48,59.18 5.75,58.59 4.36,57.58 C2.97,56.56 2.90,55.46 2.34,53.91 C1.79,52.35 1.10,50.54 1.04,48.25 C0.99,45.96 1.76,43.13 2.02,40.17 C2.28,37.20 2.37,32.93 2.60,30.47 C2.84,28.00 3.12,27.08 3.44,25.37 C3.75,23.66 4.10,21.78 4.49,20.20 C4.87,18.62 5.33,17.22 5.75,15.89 C6.17,14.57 6.56,13.39 7.00,12.25 C7.44,11.11 7.66,9.85 8.39,9.04 C9.11,8.24 10.02,7.68 11.34,7.41 C12.67,7.13 15.16,7.20 16.34,7.38 Z" fill="url(#mg)"/><path d="M4,57 L1.0,62 M21.5,57.5 L25,59.5 M12.6,62 L12.6,64.6" stroke="#c4c4c4" stroke-width="1.2" fill="none"/>
<ellipse cx="12.5" cy="39.3" rx="7" ry="9" fill="#f4f4f4" opacity="0.5"/>
</g></g></g>
<g transform="translate(157.50,262.30)">
<rect width="25.80" height="64.60" fill="#3e3e3e"/>
<g transform="translate(-0.35,0) scale(0.9923,1.0000)"><ellipse cx="6.5" cy="1.8" rx="1.9" ry="1.5" fill="#1e1e1e" filter="url(#bl2)"/><ellipse cx="19.5" cy="1.8" rx="1.9" ry="1.5" fill="#1e1e1e" filter="url(#bl2)"/><g filter="url(#fur3)"><path d="M11.81,0 L14.21,0 L14.51,8 L11.51,8 Z" fill="#d8d8d8"/><path d="M15.13,7.76 C16.32,7.97 16.48,8.03 17.11,8.77 C17.74,9.51 18.16,11.04 18.91,12.18 C19.66,13.32 21.20,14.32 21.60,15.62 C22.00,16.91 21.05,18.30 21.31,19.95 C21.57,21.60 22.88,23.89 23.15,25.49 C23.43,27.09 22.84,27.17 22.97,29.53 C23.10,31.89 23.74,36.54 23.93,39.66 C24.13,42.78 24.08,45.93 24.12,48.26 C24.16,50.60 24.70,52.09 24.17,53.67 C23.64,55.25 22.44,56.68 20.93,57.74 C19.43,58.79 16.38,59.21 15.16,60.00 C13.94,60.79 14.19,62.08 13.60,62.50 C13.01,62.92 12.21,62.92 11.60,62.50 C10.99,62.08 11.19,60.65 9.94,60.00 C8.69,59.35 5.44,59.59 4.09,58.59 C2.75,57.59 2.27,55.81 1.85,54.02 C1.42,52.23 1.79,50.11 1.54,47.86 C1.30,45.61 0.32,43.57 0.39,40.54 C0.46,37.50 1.55,32.16 1.97,29.67 C2.38,27.17 2.44,27.19 2.89,25.55 C3.33,23.91 4.37,21.32 4.65,19.81 C4.93,18.30 4.15,17.77 4.57,16.46 C4.99,15.16 6.59,13.21 7.17,11.98 C7.75,10.74 7.60,9.80 8.06,9.06 C8.52,8.31 8.73,7.72 9.91,7.51 C11.09,7.29 13.93,7.55 15.13,7.76 Z" fill="url(#mg)"/><path d="M4,57 L1.0,62 M21.5,57.5 L25,59.5 M12.6,62 L12.6,64.6" stroke="#c4c4c4" stroke-width="1.2" fill="none"/>
<ellipse cx="11.0" cy="41.8" rx="7" ry="9" fill="#f4f4f4" opacity="0.5"/>
</g></g></g>
<g transform="translate(185.00,262.30)">
<rect width="25.80" height="64.60" fill="#3e3e3e"/>
<g transform="translate(-0.15,0) scale(0.9923,1.0000)"><ellipse cx="6.5" cy="1.8" rx="1.9" ry="1.5" fill="#1e1e1e" filter="url(#bl2)"/><ellipse cx="19.5" cy="1.8" rx="1.9" ry="1.5" fill="#1e1e1e" filter="url(#bl2)"/><g filter="url(#fur0)"><path d="M12.26,0 L14.66,0 L14.96,8 L11.96,8 Z" fill="#d8d8d8"/><path d="M15.88,7.33 C17.02,7.56 16.72,7.86 17.28,8.59 C17.85,9.32 18.53,10.47 19.28,11.71 C20.03,12.95 21.25,14.54 21.76,16.02 C22.28,17.50 22.21,19.09 22.35,20.59 C22.48,22.10 22.44,23.42 22.58,25.04 C22.72,26.66 23.00,27.77 23.17,30.32 C23.34,32.88 23.26,37.38 23.60,40.39 C23.94,43.40 25.28,46.16 25.22,48.39 C25.16,50.61 23.80,52.20 23.25,53.72 C22.69,55.25 23.29,56.47 21.89,57.52 C20.49,58.56 16.24,59.17 14.86,60.00 C13.48,60.83 14.14,62.08 13.60,62.50 C13.06,62.92 12.14,62.92 11.60,62.50 C11.06,62.08 11.58,60.71 10.39,60.00 C9.19,59.29 6.00,59.30 4.44,58.26 C2.88,57.22 1.67,55.51 1.04,53.77 C0.41,52.02 0.74,50.00 0.66,47.77 C0.58,45.54 0.35,43.36 0.58,40.40 C0.82,37.44 1.61,32.66 2.08,30.03 C2.55,27.41 2.96,26.40 3.39,24.65 C3.82,22.90 4.29,20.97 4.65,19.51 C5.01,18.05 5.09,17.19 5.52,15.90 C5.95,14.61 6.63,12.90 7.24,11.76 C7.86,10.63 8.68,9.87 9.22,9.10 C9.76,8.34 9.35,7.46 10.46,7.16 C11.57,6.87 14.75,7.09 15.88,7.33 Z" fill="url(#mg)"/><path d="M4,57 L1.0,62 M21.5,57.5 L25,59.5 M12.6,62 L12.6,64.6" stroke="#c4c4c4" stroke-width="1.2" fill="none"/>
<ellipse cx="11.4" cy="41.2" rx="7" ry="9" fill="#f4f4f4" opacity="0.5"/>
</g></g></g>
<g transform="translate(212.80,262.30)">
<rect width="26.00" height="64.60" fill="#3e3e3e"/>
<g transform="translate(-0.05,0) scale(1.0000,1.0000)"><ellipse cx="6.5" cy="1.8" rx="1.9" ry="1.5" fill="#1e1e1e" filter="url(#bl2)"/><ellipse cx="19.5" cy="1.8" rx="1.9" ry="1.5" fill="#1e1e1e" filter="url(#bl2)"/><g filter="url(#fur1)"><path d="M12.46,0 L14.86,0 L15.16,8 L12.16,8 Z" fill="#d8d8d8"/><path d="M16.09,7.38 C17.11,7.69 16.37,8.14 17.02,8.85 C17.67,9.57 19.28,10.50 19.98,11.68 C20.68,12.87 21.01,14.47 21.22,15.95 C21.42,17.43 20.83,19.14 21.22,20.59 C21.61,22.04 23.07,23.12 23.54,24.65 C24.00,26.17 23.89,27.18 24.01,29.75 C24.13,32.32 24.24,37.04 24.28,40.05 C24.31,43.06 24.32,45.45 24.24,47.80 C24.16,50.16 24.34,52.56 23.81,54.20 C23.28,55.84 22.46,56.67 21.06,57.64 C19.66,58.61 16.66,59.19 15.42,60.00 C14.18,60.81 14.24,62.08 13.60,62.50 C12.96,62.92 12.18,62.92 11.60,62.50 C11.02,62.08 11.34,60.84 10.13,60.00 C8.92,59.16 5.82,58.56 4.33,57.49 C2.84,56.41 1.86,55.18 1.18,53.55 C0.50,51.91 0.16,49.91 0.26,47.67 C0.37,45.43 1.61,43.08 1.81,40.11 C2.00,37.15 1.20,32.36 1.42,29.88 C1.64,27.41 2.81,26.98 3.12,25.25 C3.42,23.52 2.84,21.14 3.25,19.51 C3.66,17.89 4.96,16.80 5.59,15.51 C6.21,14.22 6.40,12.87 7.00,11.80 C7.60,10.73 8.55,9.88 9.20,9.08 C9.85,8.27 9.77,7.28 10.92,7.00 C12.07,6.71 15.08,7.08 16.09,7.38 Z" fill="url(#mg)"/><path d="M4,57 L1.0,62 M21.5,57.5 L25,59.5 M12.6,62 L12.6,64.6" stroke="#c4c4c4" stroke-width="1.2" fill="none"/>
<ellipse cx="13.0" cy="43.2" rx="7" ry="9" fill="#f4f4f4" opacity="0.5"/>
</g></g></g>
<g transform="translate(240.80,262.30)">
<rect width="26.20" height="64.60" fill="#3e3e3e"/>
<g transform="translate(0.32,0) scale(1.0077,1.0000)"><ellipse cx="6.5" cy="1.8" rx="1.9" ry="1.5" fill="#1e1e1e" filter="url(#bl2)"/><ellipse cx="19.5" cy="1.8" rx="1.9" ry="1.5" fill="#1e1e1e" filter="url(#bl2)"/><g filter="url(#fur2)"><path d="M12.29,0 L14.69,0 L14.99,8 L11.99,8 Z" fill="#d8d8d8"/><path d="M15.29,7.00 C16.38,7.19 17.05,7.54 17.74,8.42 C18.43,9.29 18.72,10.92 19.42,12.24 C20.13,13.56 21.47,15.03 21.97,16.35 C22.46,17.66 22.36,18.72 22.39,20.13 C22.42,21.54 21.95,23.12 22.13,24.80 C22.32,26.47 23.24,27.67 23.52,30.18 C23.79,32.69 23.61,36.83 23.79,39.85 C23.97,42.88 24.48,45.97 24.62,48.35 C24.75,50.73 25.21,52.47 24.59,54.13 C23.96,55.80 22.55,57.34 20.89,58.32 C19.22,59.30 15.84,59.30 14.62,60.00 C13.41,60.70 14.10,62.08 13.60,62.50 C13.10,62.92 12.09,62.92 11.60,62.50 C11.11,62.08 11.90,60.76 10.67,60.00 C9.45,59.24 5.78,58.87 4.25,57.96 C2.72,57.04 2.01,56.13 1.49,54.51 C0.97,52.90 1.31,50.71 1.14,48.24 C0.96,45.77 0.27,42.79 0.45,39.69 C0.63,36.59 1.93,32.00 2.23,29.64 C2.53,27.28 1.91,27.07 2.25,25.53 C2.60,23.99 3.68,21.99 4.29,20.40 C4.89,18.82 5.60,17.38 5.88,16.02 C6.15,14.66 5.58,13.43 5.96,12.26 C6.33,11.09 7.26,9.83 8.13,9.00 C9.01,8.17 10.03,7.59 11.23,7.26 C12.42,6.92 14.21,6.80 15.29,7.00 Z" fill="url(#mg)"/><path d="M4,57 L1.0,62 M21.5,57.5 L25,59.5 M12.6,62 L12.6,64.6" stroke="#c4c4c4" stroke-width="1.2" fill="none"/>
<ellipse cx="11.5" cy="45.2" rx="7" ry="9" fill="#f4f4f4" opacity="0.5"/>
</g></g></g>
<g transform="translate(269.20,262.30)">
<rect width="25.80" height="64.60" fill="#3e3e3e"/>
<g transform="translate(0.05,0) scale(0.9923,1.0000)"><ellipse cx="6.5" cy="1.8" rx="1.9" ry="1.5" fill="#1e1e1e" filter="url(#bl2)"/><ellipse cx="19.5" cy="1.8" rx="1.9" ry="1.5" fill="#1e1e1e" filter="url(#bl2)"/><g filter="url(#fur3)"><path d="M11.97,0 L14.37,0 L14.67,8 L11.67,8 Z" fill="#d8d8d8"/><path d="M15.61,6.92 C16.91,7.27 17.88,8.72 18.64,9.59 C19.40,10.46 19.87,10.99 20.17,12.12 C20.47,13.25 20.16,15.00 20.42,16.39 C20.68,17.78 21.37,19.03 21.72,20.48 C22.07,21.93 22.09,23.56 22.53,25.09 C22.98,26.61 24.05,27.22 24.40,29.62 C24.74,32.02 24.69,36.49 24.59,39.49 C24.48,42.49 23.71,45.11 23.76,47.62 C23.81,50.12 25.21,52.84 24.88,54.53 C24.55,56.22 23.44,56.86 21.79,57.77 C20.13,58.68 16.33,59.21 14.97,60.00 C13.61,60.79 14.16,62.08 13.60,62.50 C13.04,62.92 12.18,62.92 11.60,62.50 C11.02,62.08 11.16,60.73 10.11,60.00 C9.07,59.27 6.66,59.19 5.33,58.12 C3.99,57.05 2.79,55.35 2.11,53.57 C1.43,51.79 1.39,49.74 1.26,47.45 C1.12,45.15 1.19,42.75 1.32,39.80 C1.45,36.84 1.77,32.25 2.04,29.72 C2.30,27.18 2.72,26.25 2.93,24.61 C3.13,22.97 3.00,21.30 3.26,19.86 C3.51,18.42 3.81,17.37 4.46,15.96 C5.11,14.55 6.53,12.56 7.15,11.42 C7.77,10.28 7.58,9.77 8.19,9.11 C8.80,8.45 9.57,7.85 10.81,7.49 C12.05,7.12 14.30,6.57 15.61,6.92 Z" fill="url(#mg)"/><path d="M4,57 L1.0,62 M21.5,57.5 L25,59.5 M12.6,62 L12.6,64.6" stroke="#c4c4c4" stroke-width="1.2" fill="none"/>
<ellipse cx="13.5" cy="43.5" rx="7" ry="9" fill="#f4f4f4" opacity="0.5"/>
</g></g></g>
<g filter="url(#bl3)">
<ellipse cx="36" cy="303.2" rx="3.3" ry="3.0" fill="#5a1cff"/>
<ellipse cx="37.3" cy="300.8" rx="1.8" ry="1.6" fill="#5a1cff"/>
<ellipse cx="35.8" cy="303.2" rx="2.4" ry="2.2" fill="#2a1cff"/>
<ellipse cx="63.3" cy="304.6" rx="4.3" ry="3.0" fill="#4a20ff"/>
<ellipse cx="65.5" cy="302.6" rx="2.0" ry="1.6" fill="#4a20ff"/>
<ellipse cx="63.5" cy="304.6" rx="3.0" ry="2.0" fill="#1838ff"/>
<ellipse cx="46.3" cy="302.8" rx="0.9" ry="0.7" fill="#7a40ff"/>
<ellipse cx="45.8" cy="305.8" rx="0.9" ry="0.6" fill="#7a40ff"/>
<ellipse cx="89.8" cy="308.6" rx="2.6" ry="2.0" fill="#3020ff"/>
<ellipse cx="92.6" cy="310.5" rx="1.2" ry="1.0" fill="#5a20ff"/>
<ellipse cx="88.4" cy="306.6" rx="1.0" ry="0.9" fill="#3a30ff"/>
<ellipse cx="90.4" cy="307.9" rx="1.4" ry="1.1" fill="#10a0ff"/>
<ellipse cx="90.3" cy="307.7" rx="0.7" ry="0.6" fill="#40e0ff"/>
<ellipse cx="117.3" cy="302.1" rx="2.7" ry="2.6" fill="#3a22ff"/>
<ellipse cx="118.6" cy="300.3" rx="1.2" ry="1.1" fill="#5020ff"/>
<ellipse cx="115.8" cy="303.6" rx="1.1" ry="1.0" fill="#4020ff"/>
<ellipse cx="117.3" cy="302.1" rx="1.5" ry="1.4" fill="#1090ff"/>
<ellipse cx="117.3" cy="302.1" rx="0.7" ry="0.7" fill="#40f0ff"/>
<ellipse cx="146.3" cy="305.2" rx="3.0" ry="4.4" fill="#3a22ff"/>
<ellipse cx="145" cy="302.2" rx="1.5" ry="1.4" fill="#5020ff"/>
<ellipse cx="147.5" cy="308.8" rx="1.4" ry="1.2" fill="#4a20ff"/>
<ellipse cx="146.4" cy="305" rx="1.8" ry="2.8" fill="#10a0ff"/>
<ellipse cx="146.5" cy="304.6" rx="1.0" ry="1.4" fill="#40ffc0"/>
</g>
<ellipse cx="177.0" cy="303.0" rx="4.4" ry="7.2" fill="url(#bh)" transform="rotate(28 177.0 303.0)"/>
<ellipse cx="205.8" cy="299.6" rx="4.2" ry="7.4" fill="url(#bh)" transform="rotate(8 205.8 299.6)"/>
<ellipse cx="233.5" cy="298.0" rx="3.4" ry="5.2" fill="url(#bw)" transform="rotate(0 233.5 298.0)"/>
<ellipse cx="260.9" cy="304.2" rx="4.6" ry="5.9" fill="url(#bh)" transform="rotate(-20 260.9 304.2)"/>
<ellipse cx="290.0" cy="301.0" rx="3.0" ry="5.4" fill="url(#bh)" transform="rotate(0 290.0 301.0)"/>
<g fill="#7040ff"><circle cx="86.5" cy="248.5" r="0.7"/><circle cx="206.5" cy="234.5" r="0.8"/><circle cx="263.5" cy="236.5" r="0.9"/></g>
<ellipse cx="290" cy="235.5" rx="1.5" ry="1.2" fill="url(#bc)" transform="rotate(0 290 235.5)"/>
<text x="321.60" y="179.60" font-size="12.5" fill="#111" font-weight="bold">L</text>
<line x1="375.50" y1="195.80" x2="375.50" y2="297.90" stroke="#1a1a1a" stroke-width="1.4"/>
<line x1="374.80" y1="297.30" x2="439.40" y2="297.30" stroke="#1a1a1a" stroke-width="1.3"/>
<line x1="371.80" y1="297.00" x2="375.30" y2="297.00" stroke="#333" stroke-width="1"/>
<text x="369.00" y="299.80" font-size="8.2" fill="#333" text-anchor="end" textLength="4.20" lengthAdjust="spacingAndGlyphs">0</text>
<line x1="371.80" y1="272.25" x2="375.30" y2="272.25" stroke="#333" stroke-width="1"/>
<text x="369.00" y="275.05" font-size="8.2" fill="#333" text-anchor="end" textLength="25.00" lengthAdjust="spacingAndGlyphs">20,000</text>
<line x1="371.80" y1="247.50" x2="375.30" y2="247.50" stroke="#333" stroke-width="1"/>
<text x="369.00" y="250.30" font-size="8.2" fill="#333" text-anchor="end" textLength="25.00" lengthAdjust="spacingAndGlyphs">40,000</text>
<line x1="371.80" y1="222.75" x2="375.30" y2="222.75" stroke="#333" stroke-width="1"/>
<text x="369.00" y="225.55" font-size="8.2" fill="#333" text-anchor="end" textLength="25.00" lengthAdjust="spacingAndGlyphs">60,000</text>
<line x1="371.80" y1="198.00" x2="375.30" y2="198.00" stroke="#333" stroke-width="1"/>
<text x="369.00" y="200.80" font-size="8.2" fill="#333" text-anchor="end" textLength="25.00" lengthAdjust="spacingAndGlyphs">80,000</text>
<line x1="385.20" y1="297.00" x2="385.20" y2="299.80" stroke="#333" stroke-width="1"/>
<line x1="399.70" y1="297.00" x2="399.70" y2="299.80" stroke="#333" stroke-width="1"/>
<line x1="414.60" y1="297.00" x2="414.60" y2="299.80" stroke="#333" stroke-width="1"/>
<line x1="429.30" y1="297.00" x2="429.30" y2="299.80" stroke="#333" stroke-width="1"/>
<text x="338.00" y="246.00" font-size="8.2" fill="#333" text-anchor="middle" textLength="62.50" lengthAdjust="spacingAndGlyphs" transform="rotate(-90 338.00 246.00)">BLI photon counts</text>
<text x="388.80" y="307.20" font-size="9" fill="#333" text-anchor="end" textLength="30.50" lengthAdjust="spacingAndGlyphs" transform="rotate(-45 388.80 307.20)">CTR-KO</text>
<text x="403.30" y="307.20" font-size="9" fill="#333" text-anchor="end" textLength="30.50" lengthAdjust="spacingAndGlyphs" transform="rotate(-45 403.30 307.20)">MIF-KO</text>
<text x="418.20" y="307.20" font-size="9" fill="#333" text-anchor="end" textLength="30.50" lengthAdjust="spacingAndGlyphs" transform="rotate(-45 418.20 307.20)">CTR-KO</text>
<text x="432.90" y="307.20" font-size="9" fill="#333" text-anchor="end" textLength="30.50" lengthAdjust="spacingAndGlyphs" transform="rotate(-45 432.90 307.20)">MIF-KO</text>
<line x1="383.00" y1="240.30" x2="415.00" y2="240.30" stroke="#222" stroke-width="1.2"/>
<line x1="409.40" y1="191.60" x2="431.70" y2="191.60" stroke="#222" stroke-width="1.2"/>
<text x="399.00" y="239.40" font-size="8" fill="#333" text-anchor="middle">***</text>
<text x="420.50" y="190.70" font-size="8" fill="#333" text-anchor="middle">**</text>
<circle cx="385.2" cy="282.6" r="1.6" fill="none" stroke="#b8113a" stroke-width="0.9"/>
<circle cx="383" cy="287.8" r="1.6" fill="none" stroke="#b8113a" stroke-width="0.9"/>
<circle cx="387.3" cy="287" r="1.6" fill="none" stroke="#b8113a" stroke-width="0.9"/>
<circle cx="383.8" cy="290.6" r="1.6" fill="none" stroke="#b8113a" stroke-width="0.9"/>
<circle cx="386.3" cy="289.8" r="1.6" fill="none" stroke="#b8113a" stroke-width="0.9"/>
<circle cx="385" cy="286" r="1.6" fill="none" stroke="#b8113a" stroke-width="0.9"/>
<line x1="382.30" y1="287.20" x2="388.20" y2="287.20" stroke="#b8113a" stroke-width="1.1"/>
<rect x="396.0" y="283.9" width="3" height="3" fill="none" stroke="#23468d" stroke-width="0.9"/>
<rect x="400.3" y="283.9" width="3" height="3" fill="none" stroke="#23468d" stroke-width="0.9"/>
<rect x="396.0" y="288.0" width="3" height="3" fill="none" stroke="#23468d" stroke-width="0.9"/>
<rect x="400.3" y="288.0" width="3" height="3" fill="none" stroke="#23468d" stroke-width="0.9"/>
<rect x="398.2" y="289.1" width="3" height="3" fill="none" stroke="#23468d" stroke-width="0.9"/>
<line x1="396.00" y1="287.30" x2="403.50" y2="287.30" stroke="#1a2f6a" stroke-width="1.3"/>
<polygon points="412.00,250.30 414.00,253.87 410.00,253.87" fill="none" stroke="#6cae40" stroke-width="1.0"/>
<polygon points="417.00,248.60 419.00,252.17 415.00,252.17" fill="none" stroke="#6cae40" stroke-width="1.0"/>
<polygon points="414.60,261.50 416.60,265.07 412.61,265.07" fill="none" stroke="#6cae40" stroke-width="1.0"/>
<polygon points="412.00,267.60 414.00,271.17 410.00,271.17" fill="none" stroke="#6cae40" stroke-width="1.0"/>
<polygon points="417.00,266.20 419.00,269.77 415.00,269.77" fill="none" stroke="#6cae40" stroke-width="1.0"/>
<line x1="410.00" y1="260.50" x2="419.20" y2="260.50" stroke="#34402c" stroke-width="1.2"/>
<line x1="414.60" y1="256.70" x2="414.60" y2="264.50" stroke="#6cae40" stroke-width="1"/>
<line x1="413.00" y1="256.70" x2="416.20" y2="256.70" stroke="#6cae40" stroke-width="1"/>
<line x1="413.00" y1="264.50" x2="416.20" y2="264.50" stroke="#6cae40" stroke-width="1"/>
<polygon points="429.30,200.90 431.30,197.33 427.31,197.33" fill="none" stroke="#4b1f63" stroke-width="1.0"/>
<polygon points="429.30,215.60 431.30,212.03 427.31,212.03" fill="none" stroke="#4b1f63" stroke-width="1.0"/>
<polygon points="429.60,219.60 431.60,216.03 427.61,216.03" fill="none" stroke="#4b1f63" stroke-width="1.0"/>
<polygon points="426.70,232.40 428.69,228.83 424.70,228.83" fill="none" stroke="#4b1f63" stroke-width="1.0"/>
<polygon points="431.70,237.60 433.69,234.03 429.70,234.03" fill="none" stroke="#4b1f63" stroke-width="1.0"/>
<polygon points="429.30,243.30 431.30,239.73 427.31,239.73" fill="none" stroke="#4b1f63" stroke-width="1.0"/>
<line x1="424.40" y1="224.40" x2="434.00" y2="224.40" stroke="#2a1838" stroke-width="1.2"/>
<line x1="429.30" y1="217.00" x2="429.30" y2="231.70" stroke="#4b1f63" stroke-width="1"/>
<line x1="427.70" y1="217.00" x2="430.90" y2="217.00" stroke="#4b1f63" stroke-width="1"/>
<line x1="427.70" y1="231.70" x2="430.90" y2="231.70" stroke="#4b1f63" stroke-width="1"/>
<text x="7.00" y="349.60" font-size="12.5" fill="#111" font-weight="bold">M</text>
<line x1="62.00" y1="352.50" x2="62.00" y2="465.80" stroke="#3a3a3a" stroke-width="1.8"/>
<line x1="61.10" y1="465.30" x2="174.00" y2="465.30" stroke="#1a1a1a" stroke-width="1.2"/>
<line x1="58.80" y1="465.00" x2="61.50" y2="465.00" stroke="#333" stroke-width="1"/>
<text x="56.20" y="467.80" font-size="8.2" fill="#333" text-anchor="end" textLength="4.30" lengthAdjust="spacingAndGlyphs">0</text>
<line x1="58.80" y1="451.15" x2="61.50" y2="451.15" stroke="#333" stroke-width="1"/>
<text x="56.20" y="453.95" font-size="8.2" fill="#333" text-anchor="end" textLength="13.50" lengthAdjust="spacingAndGlyphs">500</text>
<line x1="58.80" y1="437.30" x2="61.50" y2="437.30" stroke="#333" stroke-width="1"/>
<text x="56.20" y="440.10" font-size="8.2" fill="#333" text-anchor="end" textLength="21.50" lengthAdjust="spacingAndGlyphs">1,000</text>
<line x1="58.80" y1="423.45" x2="61.50" y2="423.45" stroke="#333" stroke-width="1"/>
<text x="56.20" y="426.25" font-size="8.2" fill="#333" text-anchor="end" textLength="21.50" lengthAdjust="spacingAndGlyphs">1,500</text>
<line x1="58.80" y1="409.60" x2="61.50" y2="409.60" stroke="#333" stroke-width="1"/>
<text x="56.20" y="412.40" font-size="8.2" fill="#333" text-anchor="end" textLength="21.50" lengthAdjust="spacingAndGlyphs">2,000</text>
<line x1="58.80" y1="395.75" x2="61.50" y2="395.75" stroke="#333" stroke-width="1"/>
<text x="56.20" y="398.55" font-size="8.2" fill="#333" text-anchor="end" textLength="21.50" lengthAdjust="spacingAndGlyphs">2,500</text>
<line x1="58.80" y1="381.90" x2="61.50" y2="381.90" stroke="#333" stroke-width="1"/>
<text x="56.20" y="384.70" font-size="8.2" fill="#333" text-anchor="end" textLength="21.50" lengthAdjust="spacingAndGlyphs">3,000</text>
<line x1="58.80" y1="368.05" x2="61.50" y2="368.05" stroke="#333" stroke-width="1"/>
<text x="56.20" y="370.85" font-size="8.2" fill="#333" text-anchor="end" textLength="21.50" lengthAdjust="spacingAndGlyphs">3,500</text>
<line x1="58.80" y1="354.20" x2="61.50" y2="354.20" stroke="#333" stroke-width="1"/>
<text x="56.20" y="357.00" font-size="8.2" fill="#333" text-anchor="end" textLength="21.50" lengthAdjust="spacingAndGlyphs">4,000</text>
<line x1="65.00" y1="465.00" x2="65.00" y2="467.80" stroke="#333" stroke-width="1"/>
<text x="65.00" y="479.20" font-size="8.2" fill="#333" text-anchor="middle" textLength="4.30" lengthAdjust="spacingAndGlyphs">1</text>
<line x1="77.75" y1="465.00" x2="77.75" y2="467.80" stroke="#333" stroke-width="1"/>
<text x="77.75" y="479.20" font-size="8.2" fill="#333" text-anchor="middle" textLength="4.30" lengthAdjust="spacingAndGlyphs">5</text>
<line x1="90.50" y1="465.00" x2="90.50" y2="467.80" stroke="#333" stroke-width="1"/>
<text x="90.50" y="479.20" font-size="8.2" fill="#333" text-anchor="middle" textLength="4.30" lengthAdjust="spacingAndGlyphs">9</text>
<line x1="103.25" y1="465.00" x2="103.25" y2="467.80" stroke="#333" stroke-width="1"/>
<text x="103.25" y="479.20" font-size="8.2" fill="#333" text-anchor="middle" textLength="8.80" lengthAdjust="spacingAndGlyphs">13</text>
<line x1="116.00" y1="465.00" x2="116.00" y2="467.80" stroke="#333" stroke-width="1"/>
<text x="116.00" y="479.20" font-size="8.2" fill="#333" text-anchor="middle" textLength="8.80" lengthAdjust="spacingAndGlyphs">17</text>
<line x1="128.75" y1="465.00" x2="128.75" y2="467.80" stroke="#333" stroke-width="1"/>
<text x="128.75" y="479.20" font-size="8.2" fill="#333" text-anchor="middle" textLength="8.80" lengthAdjust="spacingAndGlyphs">21</text>
<line x1="141.50" y1="465.00" x2="141.50" y2="467.80" stroke="#333" stroke-width="1"/>
<text x="141.50" y="479.20" font-size="8.2" fill="#333" text-anchor="middle" textLength="8.80" lengthAdjust="spacingAndGlyphs">25</text>
<line x1="154.25" y1="465.00" x2="154.25" y2="467.80" stroke="#333" stroke-width="1"/>
<text x="154.25" y="479.20" font-size="8.2" fill="#333" text-anchor="middle" textLength="8.80" lengthAdjust="spacingAndGlyphs">29</text>
<line x1="167.00" y1="465.00" x2="167.00" y2="467.80" stroke="#333" stroke-width="1"/>
<text x="167.00" y="479.20" font-size="8.2" fill="#333" text-anchor="middle" textLength="8.80" lengthAdjust="spacingAndGlyphs">33</text>
<text x="118.00" y="492.00" font-size="9" fill="#333" text-anchor="middle" textLength="16.80" lengthAdjust="spacingAndGlyphs">Days</text>
<text x="30.20" y="411.90" font-size="8.2" fill="#333" text-anchor="middle" textLength="68.00" lengthAdjust="spacingAndGlyphs" transform="rotate(-90 30.20 411.90)">Tumor volume (mm</text>
<text x="30.2" y="377.6" font-size="8.2" fill="#333" transform="rotate(-90 30.2 377.6)" textLength="7" lengthAdjust="spacingAndGlyphs"><tspan font-size="5.5" dy="-3">3</tspan><tspan dy="3">)</tspan></text>
<line x1="106.20" y1="442.60" x2="106.20" y2="439.70" stroke="#1f3f88" stroke-width="0.9"/>
<line x1="104.40" y1="439.70" x2="108.00" y2="439.70" stroke="#1f3f88" stroke-width="0.9"/>
<line x1="160.80" y1="371.60" x2="160.80" y2="363.00" stroke="#1f3f88" stroke-width="0.9"/>
<line x1="159.00" y1="363.00" x2="162.60" y2="363.00" stroke="#1f3f88" stroke-width="0.9"/>
<line x1="116.00" y1="432.70" x2="116.00" y2="431.40" stroke="#b3153d" stroke-width="0.9"/>
<line x1="114.20" y1="431.40" x2="117.80" y2="431.40" stroke="#b3153d" stroke-width="0.9"/>
<line x1="125.60" y1="421.20" x2="125.60" y2="417.00" stroke="#b3153d" stroke-width="0.9"/>
<line x1="123.80" y1="417.00" x2="127.40" y2="417.00" stroke="#b3153d" stroke-width="0.9"/>
<line x1="138.30" y1="405.50" x2="138.30" y2="400.20" stroke="#b3153d" stroke-width="0.9"/>
<line x1="136.50" y1="400.20" x2="140.10" y2="400.20" stroke="#b3153d" stroke-width="0.9"/>
<line x1="147.90" y1="384.80" x2="147.90" y2="377.00" stroke="#b3153d" stroke-width="0.9"/>
<line x1="146.10" y1="377.00" x2="149.70" y2="377.00" stroke="#b3153d" stroke-width="0.9"/>
<line x1="125.60" y1="444.30" x2="125.60" y2="441.00" stroke="#1f3f88" stroke-width="0.9"/>
<line x1="123.80" y1="441.00" x2="127.40" y2="441.00" stroke="#1f3f88" stroke-width="0.9"/>
<line x1="138.30" y1="429.40" x2="138.30" y2="427.00" stroke="#1f3f88" stroke-width="0.9"/>
<line x1="136.50" y1="427.00" x2="140.10" y2="427.00" stroke="#1f3f88" stroke-width="0.9"/>
<line x1="147.90" y1="417.00" x2="147.90" y2="413.20" stroke="#1f3f88" stroke-width="0.9"/>
<line x1="146.10" y1="413.20" x2="149.70" y2="413.20" stroke="#1f3f88" stroke-width="0.9"/>
<line x1="160.80" y1="398.80" x2="160.80" y2="381.50" stroke="#1f3f88" stroke-width="0.9"/>
<line x1="159.00" y1="381.50" x2="162.60" y2="381.50" stroke="#1f3f88" stroke-width="0.9"/>
<line x1="125.60" y1="455.50" x2="125.60" y2="450.60" stroke="#b3153d" stroke-width="0.9"/>
<line x1="123.80" y1="450.60" x2="127.40" y2="450.60" stroke="#b3153d" stroke-width="0.9"/>
<line x1="138.30" y1="457.20" x2="138.30" y2="450.60" stroke="#b3153d" stroke-width="0.9"/>
<line x1="136.50" y1="450.60" x2="140.10" y2="450.60" stroke="#b3153d" stroke-width="0.9"/>
<line x1="147.90" y1="459.20" x2="147.90" y2="455.00" stroke="#b3153d" stroke-width="0.9"/>
<line x1="146.10" y1="455.00" x2="149.70" y2="455.00" stroke="#b3153d" stroke-width="0.9"/>
<line x1="160.80" y1="459.70" x2="160.80" y2="455.90" stroke="#b3153d" stroke-width="0.9"/>
<line x1="159.00" y1="455.90" x2="162.60" y2="455.90" stroke="#b3153d" stroke-width="0.9"/>
<polyline points="64.50,462.50 75.00,461.30 84.25,459.30 93.75,458.80 106.20,457.50 116.00,454.20 125.60,455.50 138.30,457.20 147.90,459.20 160.80,459.70" fill="none" stroke="#b3153d" stroke-width="1.4"/>
<polyline points="64.50,462.50 75.00,461.30 84.25,459.30 93.75,458.80 106.20,457.50 116.00,450.90 125.60,444.30 138.30,429.40 147.90,417.00 160.80,398.80" fill="none" stroke="#1f3f88" stroke-width="1.4"/>
<polyline points="64.50,462.50 75.00,461.30 84.25,459.30 93.75,456.00 106.20,450.10 116.00,432.70 125.60,421.20 138.30,405.50 147.90,384.80 160.80,374.00" fill="none" stroke="#b3153d" stroke-width="1.4" stroke-dasharray="3,1.6"/>
<polyline points="64.50,462.50 75.00,461.30 84.25,459.30 93.75,453.80 106.20,442.60 116.00,433.60 125.60,424.50 138.30,407.90 147.90,388.40 160.80,371.60" fill="none" stroke="#1f3f88" stroke-width="1.4" stroke-dasharray="3,1.6"/>
<polygon points="64.50,464.48 66.30,461.24 62.70,461.24" fill="#b3153d"/>
<polygon points="75.00,463.28 76.80,460.04 73.20,460.04" fill="#b3153d"/>
<polygon points="84.25,461.28 86.05,458.04 82.45,458.04" fill="#b3153d"/>
<polygon points="93.75,460.78 95.55,457.54 91.95,457.54" fill="#b3153d"/>
<polygon points="106.20,459.48 108.00,456.24 104.40,456.24" fill="#b3153d"/>
<polygon points="116.00,456.18 117.80,452.94 114.20,452.94" fill="#b3153d"/>
<polygon points="125.60,457.48 127.40,454.24 123.80,454.24" fill="#b3153d"/>
<polygon points="138.30,459.18 140.10,455.94 136.50,455.94" fill="#b3153d"/>
<polygon points="147.90,461.18 149.70,457.94 146.10,457.94" fill="#b3153d"/>
<polygon points="160.80,461.68 162.60,458.44 159.00,458.44" fill="#b3153d"/>
<polygon points="64.50,460.41 66.40,463.83 62.60,463.83" fill="#1f3f88"/>
<polygon points="75.00,459.21 76.90,462.63 73.10,462.63" fill="#1f3f88"/>
<polygon points="84.25,457.21 86.15,460.63 82.35,460.63" fill="#1f3f88"/>
<polygon points="93.75,456.71 95.65,460.13 91.85,460.13" fill="#1f3f88"/>
<polygon points="106.20,455.41 108.10,458.83 104.30,458.83" fill="#1f3f88"/>
<polygon points="116.00,448.81 117.90,452.23 114.10,452.23" fill="#1f3f88"/>
<polygon points="125.60,442.21 127.50,445.63 123.70,445.63" fill="#1f3f88"/>
<polygon points="138.30,427.31 140.20,430.73 136.40,430.73" fill="#1f3f88"/>
<polygon points="147.90,414.91 149.80,418.33 146.00,418.33" fill="#1f3f88"/>
<polygon points="160.80,396.71 162.70,400.13 158.90,400.13" fill="#1f3f88"/>
<rect x="62.60" y="460.60" width="3.80" height="3.80" fill="#b3153d"/>
<rect x="73.10" y="459.40" width="3.80" height="3.80" fill="#b3153d"/>
<rect x="82.35" y="457.40" width="3.80" height="3.80" fill="#b3153d"/>
<rect x="91.85" y="454.10" width="3.80" height="3.80" fill="#b3153d"/>
<rect x="104.30" y="448.20" width="3.80" height="3.80" fill="#b3153d"/>
<rect x="114.10" y="430.80" width="3.80" height="3.80" fill="#b3153d"/>
<rect x="123.70" y="419.30" width="3.80" height="3.80" fill="#b3153d"/>
<rect x="136.40" y="403.60" width="3.80" height="3.80" fill="#b3153d"/>
<rect x="146.00" y="382.90" width="3.80" height="3.80" fill="#b3153d"/>
<rect x="158.90" y="372.10" width="3.80" height="3.80" fill="#b3153d"/>
<circle cx="64.50" cy="462.50" r="1.80" fill="#1f3f88"/>
<circle cx="75.00" cy="461.30" r="1.80" fill="#1f3f88"/>
<circle cx="84.25" cy="459.30" r="1.80" fill="#1f3f88"/>
<circle cx="93.75" cy="453.80" r="1.80" fill="#1f3f88"/>
<circle cx="106.20" cy="442.60" r="1.80" fill="#1f3f88"/>
<circle cx="116.00" cy="433.60" r="1.80" fill="#1f3f88"/>
<circle cx="125.60" cy="424.50" r="1.80" fill="#1f3f88"/>
<circle cx="138.30" cy="407.90" r="1.80" fill="#1f3f88"/>
<circle cx="147.90" cy="388.40" r="1.80" fill="#1f3f88"/>
<circle cx="160.80" cy="371.60" r="1.80" fill="#1f3f88"/>
<line x1="166.30" y1="412.00" x2="166.30" y2="453.60" stroke="#444" stroke-width="1.2"/>
<text x="166.00" y="432.70" font-size="8" fill="#333" text-anchor="middle" transform="rotate(90 166.00 432.70)">**</text>
<line x1="65.20" y1="357.80" x2="74.10" y2="357.80" stroke="#1f3f88" stroke-width="1.1"/>
<circle cx="69.80" cy="357.80" r="2.00" fill="#1f3f88"/>
<text x="78.50" y="360.50" font-size="8.2" fill="#333" textLength="28.30" lengthAdjust="spacingAndGlyphs">CTR-KO</text>
<line x1="65.20" y1="369.00" x2="74.10" y2="369.00" stroke="#b3153d" stroke-width="1.1"/>
<rect x="67.80" y="367.00" width="4.00" height="4.00" fill="#b3153d"/>
<text x="78.50" y="371.70" font-size="8.2" fill="#333" textLength="28.30" lengthAdjust="spacingAndGlyphs">MIF-KO</text>
<line x1="65.20" y1="380.60" x2="74.10" y2="380.60" stroke="#1f3f88" stroke-width="1.1"/>
<polygon points="69.80,378.84 71.40,381.72 68.20,381.72" fill="#1f3f88"/>
<text x="78.50" y="383.30" font-size="8.2" fill="#333" textLength="28.30" lengthAdjust="spacingAndGlyphs">CTR-KO</text>
<line x1="65.20" y1="391.80" x2="74.10" y2="391.80" stroke="#b3153d" stroke-width="1.1"/>
<polygon points="69.80,393.56 71.40,390.68 68.20,390.68" fill="#b3153d"/>
<text x="78.50" y="394.50" font-size="8.2" fill="#333" textLength="28.30" lengthAdjust="spacingAndGlyphs">MIF-KO</text>
<line x1="110.20" y1="354.00" x2="110.20" y2="371.70" stroke="#222" stroke-width="1.1"/>
<line x1="110.20" y1="377.50" x2="110.20" y2="395.00" stroke="#222" stroke-width="1.1"/>
<text x="113.30" y="365.30" font-size="8.2" fill="#333" textLength="13.00" lengthAdjust="spacingAndGlyphs">Veh</text>
<text x="113.30" y="389.00" font-size="8.2" fill="#333" textLength="11.00" lengthAdjust="spacingAndGlyphs">Cfz</text>
<text x="186.60" y="349.60" font-size="12.5" fill="#111" font-weight="bold">N</text>
<line x1="230.00" y1="371.20" x2="230.00" y2="465.90" stroke="#3a3a3a" stroke-width="1.8"/>
<line x1="229.10" y1="465.40" x2="356.30" y2="465.40" stroke="#1a1a1a" stroke-width="1.2"/>
<line x1="227.20" y1="465.00" x2="229.50" y2="465.00" stroke="#333" stroke-width="1"/>
<text x="225.00" y="467.80" font-size="8.2" fill="#333" text-anchor="end" textLength="4.30" lengthAdjust="spacingAndGlyphs">0</text>
<line x1="227.20" y1="422.50" x2="229.50" y2="422.50" stroke="#333" stroke-width="1"/>
<text x="225.00" y="425.30" font-size="8.2" fill="#333" text-anchor="end" textLength="9.20" lengthAdjust="spacingAndGlyphs">50</text>
<line x1="227.20" y1="380.00" x2="229.50" y2="380.00" stroke="#333" stroke-width="1"/>
<text x="225.00" y="382.80" font-size="8.2" fill="#333" text-anchor="end" textLength="14.00" lengthAdjust="spacingAndGlyphs">100</text>
<line x1="297.00" y1="465.00" x2="297.00" y2="467.80" stroke="#333" stroke-width="1"/>
<text x="297.00" y="479.20" font-size="8.2" fill="#333" text-anchor="middle" textLength="8.80" lengthAdjust="spacingAndGlyphs">40</text>
<line x1="330.75" y1="465.00" x2="330.75" y2="467.80" stroke="#333" stroke-width="1"/>
<text x="330.75" y="479.20" font-size="8.2" fill="#333" text-anchor="middle" textLength="8.80" lengthAdjust="spacingAndGlyphs">60</text>
<text x="294.00" y="492.50" font-size="9" fill="#333" text-anchor="middle" textLength="16.80" lengthAdjust="spacingAndGlyphs">Days</text>
<text x="204.30" y="418.40" font-size="8.2" fill="#333" text-anchor="middle" textLength="54.30" lengthAdjust="spacingAndGlyphs" transform="rotate(-90 204.30 418.40)">Percent survival</text>
<polyline points="230.50,380.00 297.20,380.00 297.20,397.00 305.70,397.00 305.70,431.00 314.40,431.00 314.40,448.00 322.50,448.00 322.50,465.00" fill="none" stroke="#1f3f88" stroke-width="1.3"/>
<polyline points="288.80,380.00 288.80,414.00 297.00,414.00 297.00,448.00 305.60,448.00 305.60,465.00" fill="none" stroke="#1f3f88" stroke-width="1.3" stroke-dasharray="2.6,1.4"/>
<polyline points="288.80,380.00 288.80,397.00 297.00,397.00 297.00,465.00" fill="none" stroke="#b3153d" stroke-width="1.3" stroke-dasharray="2.6,1.4"/>
<polyline points="230.50,380.00 322.50,380.00 322.50,397.00 330.20,397.00" fill="none" stroke="#b3153d" stroke-width="1.3"/>
<polygon points="330.70,398.98 332.50,395.74 328.90,395.74" fill="#b3153d"/>
<line x1="328.60" y1="408.30" x2="328.60" y2="449.90" stroke="#222" stroke-width="1.1"/>
<text x="328.50" y="429.10" font-size="8" fill="#333" text-anchor="middle" transform="rotate(90 328.50 429.10)">**</text>
<line x1="340.50" y1="375.80" x2="349.50" y2="375.80" stroke="#1f3f88" stroke-width="1.1"/>
<circle cx="345.00" cy="375.80" r="2.00" fill="#1f3f88"/>
<text x="352.50" y="378.50" font-size="8.2" fill="#333" textLength="28.80" lengthAdjust="spacingAndGlyphs">CTR-KO</text>
<line x1="340.50" y1="387.00" x2="349.50" y2="387.00" stroke="#b3153d" stroke-width="1.1"/>
<rect x="343.00" y="385.00" width="4.00" height="4.00" fill="#b3153d"/>
<text x="352.50" y="389.70" font-size="8.2" fill="#333" textLength="28.80" lengthAdjust="spacingAndGlyphs">MIF-KO</text>
<line x1="340.50" y1="398.30" x2="349.50" y2="398.30" stroke="#1f3f88" stroke-width="1.1"/>
<polygon points="345.00,396.54 346.60,399.42 343.40,399.42" fill="#1f3f88"/>
<text x="352.50" y="401.00" font-size="8.2" fill="#333" textLength="28.80" lengthAdjust="spacingAndGlyphs">CTR-KO</text>
<line x1="340.50" y1="409.50" x2="349.50" y2="409.50" stroke="#b3153d" stroke-width="1.1"/>
<polygon points="345.00,411.26 346.60,408.38 343.40,408.38" fill="#b3153d"/>
<text x="352.50" y="412.20" font-size="8.2" fill="#333" textLength="28.80" lengthAdjust="spacingAndGlyphs">MIF-KO</text>
<line x1="384.80" y1="372.00" x2="384.80" y2="390.00" stroke="#222" stroke-width="1.1"/>
<line x1="384.80" y1="395.00" x2="384.80" y2="412.50" stroke="#222" stroke-width="1.1"/>
<text x="387.60" y="383.50" font-size="8.2" fill="#333" textLength="13.70" lengthAdjust="spacingAndGlyphs">Veh</text>
<text x="387.60" y="407.30" font-size="8.2" fill="#333" textLength="11.90" lengthAdjust="spacingAndGlyphs">Cfz</text>
<text x="7.80" y="514.30" font-size="12.5" fill="#111" font-weight="bold">O</text>
<line x1="62.00" y1="515.00" x2="62.00" y2="627.10" stroke="#3a3a3a" stroke-width="1.8"/>
<line x1="61.10" y1="626.60" x2="174.00" y2="626.60" stroke="#1a1a1a" stroke-width="1.2"/>
<line x1="59.40" y1="626.30" x2="61.50" y2="626.30" stroke="#333" stroke-width="1"/>
<text x="58.00" y="629.10" font-size="8.4" fill="#333" text-anchor="end" textLength="4.30" lengthAdjust="spacingAndGlyphs">0</text>
<line x1="59.40" y1="613.55" x2="61.50" y2="613.55" stroke="#333" stroke-width="1"/>
<text x="58.00" y="616.35" font-size="8.4" fill="#333" text-anchor="end" textLength="15.80" lengthAdjust="spacingAndGlyphs">400</text>
<line x1="59.40" y1="600.80" x2="61.50" y2="600.80" stroke="#333" stroke-width="1"/>
<text x="58.00" y="603.60" font-size="8.4" fill="#333" text-anchor="end" textLength="15.80" lengthAdjust="spacingAndGlyphs">800</text>
<line x1="59.40" y1="588.05" x2="61.50" y2="588.05" stroke="#333" stroke-width="1"/>
<text x="58.00" y="590.85" font-size="8.4" fill="#333" text-anchor="end" textLength="20.20" lengthAdjust="spacingAndGlyphs">1200</text>
<line x1="59.40" y1="575.30" x2="61.50" y2="575.30" stroke="#333" stroke-width="1"/>
<text x="58.00" y="578.10" font-size="8.4" fill="#333" text-anchor="end" textLength="20.20" lengthAdjust="spacingAndGlyphs">1600</text>
<line x1="59.40" y1="562.55" x2="61.50" y2="562.55" stroke="#333" stroke-width="1"/>
<text x="58.00" y="565.35" font-size="8.4" fill="#333" text-anchor="end" textLength="20.20" lengthAdjust="spacingAndGlyphs">2000</text>
<line x1="59.40" y1="549.80" x2="61.50" y2="549.80" stroke="#333" stroke-width="1"/>
<text x="58.00" y="552.60" font-size="8.4" fill="#333" text-anchor="end" textLength="20.20" lengthAdjust="spacingAndGlyphs">2400</text>
<line x1="59.40" y1="537.05" x2="61.50" y2="537.05" stroke="#333" stroke-width="1"/>
<text x="58.00" y="539.85" font-size="8.4" fill="#333" text-anchor="end" textLength="20.20" lengthAdjust="spacingAndGlyphs">2800</text>
<line x1="59.40" y1="524.30" x2="61.50" y2="524.30" stroke="#333" stroke-width="1"/>
<text x="58.00" y="527.10" font-size="8.4" fill="#333" text-anchor="end" textLength="20.20" lengthAdjust="spacingAndGlyphs">3200</text>
<line x1="70.75" y1="626.30" x2="70.75" y2="629.00" stroke="#333" stroke-width="1"/>
<text x="70.75" y="640.40" font-size="8.2" fill="#333" text-anchor="middle" textLength="4.30" lengthAdjust="spacingAndGlyphs">8</text>
<line x1="82.84" y1="626.30" x2="82.84" y2="629.00" stroke="#333" stroke-width="1"/>
<text x="82.84" y="640.40" font-size="8.2" fill="#333" text-anchor="middle" textLength="8.80" lengthAdjust="spacingAndGlyphs">12</text>
<line x1="94.94" y1="626.30" x2="94.94" y2="629.00" stroke="#333" stroke-width="1"/>
<text x="94.94" y="640.40" font-size="8.2" fill="#333" text-anchor="middle" textLength="8.80" lengthAdjust="spacingAndGlyphs">16</text>
<line x1="107.03" y1="626.30" x2="107.03" y2="629.00" stroke="#333" stroke-width="1"/>
<text x="107.03" y="640.40" font-size="8.2" fill="#333" text-anchor="middle" textLength="8.80" lengthAdjust="spacingAndGlyphs">20</text>
<line x1="119.12" y1="626.30" x2="119.12" y2="629.00" stroke="#333" stroke-width="1"/>
<text x="119.12" y="640.40" font-size="8.2" fill="#333" text-anchor="middle" textLength="8.80" lengthAdjust="spacingAndGlyphs">24</text>
<line x1="131.22" y1="626.30" x2="131.22" y2="629.00" stroke="#333" stroke-width="1"/>
<text x="131.22" y="640.40" font-size="8.2" fill="#333" text-anchor="middle" textLength="8.80" lengthAdjust="spacingAndGlyphs">28</text>
<line x1="143.31" y1="626.30" x2="143.31" y2="629.00" stroke="#333" stroke-width="1"/>
<text x="143.31" y="640.40" font-size="8.2" fill="#333" text-anchor="middle" textLength="8.80" lengthAdjust="spacingAndGlyphs">32</text>
<line x1="155.41" y1="626.30" x2="155.41" y2="629.00" stroke="#333" stroke-width="1"/>
<text x="155.41" y="640.40" font-size="8.2" fill="#333" text-anchor="middle" textLength="8.80" lengthAdjust="spacingAndGlyphs">36</text>
<line x1="167.50" y1="626.30" x2="167.50" y2="629.00" stroke="#333" stroke-width="1"/>
<text x="167.50" y="640.40" font-size="8.2" fill="#333" text-anchor="middle" textLength="8.80" lengthAdjust="spacingAndGlyphs">40</text>
<text x="118.00" y="653.00" font-size="9" fill="#333" text-anchor="middle" textLength="16.80" lengthAdjust="spacingAndGlyphs">Days</text>
<text x="31.50" y="573.60" font-size="8.2" fill="#333" text-anchor="middle" textLength="68.50" lengthAdjust="spacingAndGlyphs" transform="rotate(-90 31.50 573.60)">Tumor volume (mm</text>
<text x="31.5" y="539.2" font-size="8.2" fill="#333" transform="rotate(-90 31.5 539.2)" textLength="7" lengthAdjust="spacingAndGlyphs"><tspan font-size="5.5" dy="-3">3</tspan><tspan dy="3">)</tspan></text>
<line x1="143.31" y1="600.00" x2="143.31" y2="590.80" stroke="#1f3f88" stroke-width="0.9"/>
<line x1="141.51" y1="590.80" x2="145.11" y2="590.80" stroke="#1f3f88" stroke-width="0.9"/>
<line x1="155.41" y1="580.50" x2="155.41" y2="566.30" stroke="#1f3f88" stroke-width="0.9"/>
<line x1="153.61" y1="566.30" x2="157.21" y2="566.30" stroke="#1f3f88" stroke-width="0.9"/>
<line x1="167.50" y1="541.30" x2="167.50" y2="517.00" stroke="#1f3f88" stroke-width="0.9"/>
<line x1="165.70" y1="517.00" x2="169.30" y2="517.00" stroke="#1f3f88" stroke-width="0.9"/>
<line x1="143.31" y1="615.00" x2="143.31" y2="610.50" stroke="#b3153d" stroke-width="0.9"/>
<line x1="141.51" y1="610.50" x2="145.11" y2="610.50" stroke="#b3153d" stroke-width="0.9"/>
<line x1="155.41" y1="609.00" x2="155.41" y2="604.50" stroke="#b3153d" stroke-width="0.9"/>
<line x1="153.61" y1="604.50" x2="157.21" y2="604.50" stroke="#b3153d" stroke-width="0.9"/>
<line x1="167.50" y1="597.00" x2="167.50" y2="589.30" stroke="#b3153d" stroke-width="0.9"/>
<line x1="165.70" y1="589.30" x2="169.30" y2="589.30" stroke="#b3153d" stroke-width="0.9"/>
<polyline points="70.75,623.30 82.84,624.30 94.94,625.00 107.03,625.70 119.12,623.30 131.22,615.50 143.31,600.00 155.41,580.50 167.50,541.30" fill="none" stroke="#1f3f88" stroke-width="1.4"/>
<polyline points="70.75,623.30 82.84,624.30 94.94,625.00 107.03,625.70 119.12,623.30 131.22,616.30 143.31,605.50 155.41,590.00 167.50,554.30" fill="none" stroke="#6cb33f" stroke-width="1.4"/>
<polyline points="119.12,623.30 131.22,618.30 143.31,615.00 155.41,609.00 167.50,597.00" fill="none" stroke="#b3153d" stroke-width="1.4"/>
<rect x="69.05" y="621.60" width="3.40" height="3.40" fill="#1f3f88"/>
<rect x="81.14" y="622.60" width="3.40" height="3.40" fill="#1f3f88"/>
<rect x="93.24" y="623.30" width="3.40" height="3.40" fill="#1f3f88"/>
<rect x="105.33" y="624.00" width="3.40" height="3.40" fill="#1f3f88"/>
<rect x="117.42" y="621.60" width="3.40" height="3.40" fill="#1f3f88"/>
<rect x="129.52" y="613.80" width="3.40" height="3.40" fill="#1f3f88"/>
<rect x="141.61" y="598.30" width="3.40" height="3.40" fill="#1f3f88"/>
<rect x="153.71" y="578.80" width="3.40" height="3.40" fill="#1f3f88"/>
<rect x="165.80" y="539.60" width="3.40" height="3.40" fill="#1f3f88"/>
<circle cx="70.75" cy="623.30" r="1.90" fill="#6cb33f"/>
<circle cx="82.84" cy="624.30" r="1.90" fill="#6cb33f"/>
<circle cx="94.94" cy="625.00" r="1.90" fill="#6cb33f"/>
<circle cx="107.03" cy="625.70" r="1.90" fill="#6cb33f"/>
<circle cx="119.12" cy="623.30" r="1.90" fill="#6cb33f"/>
<circle cx="131.22" cy="616.30" r="1.90" fill="#6cb33f"/>
<circle cx="143.31" cy="605.50" r="1.90" fill="#6cb33f"/>
<circle cx="155.41" cy="590.00" r="1.90" fill="#6cb33f"/>
<circle cx="167.50" cy="554.30" r="1.90" fill="#6cb33f"/>
<polygon points="131.22,616.21 133.12,619.63 129.32,619.63" fill="#b3153d"/>
<polygon points="143.31,612.91 145.21,616.33 141.41,616.33" fill="#b3153d"/>
<polygon points="155.41,606.91 157.31,610.33 153.51,610.33" fill="#b3153d"/>
<polygon points="167.50,594.91 169.40,598.33 165.60,598.33" fill="#b3153d"/>
<line x1="70.75" y1="603.50" x2="70.75" y2="614.00" stroke="#111" stroke-width="1.1"/>
<path d="M68.2,612.2 L70.75,618.8 L73.3,612.2 L70.75,613.6 Z" fill="#111"/>
<line x1="129.30" y1="595.00" x2="129.30" y2="606.00" stroke="#b3153d" stroke-width="1.3"/>
<path d="M126.6,604.2 L129.3,611.2 L132,604.2 L129.3,605.6 Z" fill="#b3153d"/>
<line x1="173.00" y1="548.30" x2="173.00" y2="589.50" stroke="#6e6e6e" stroke-width="1.7"/>
<text x="177.20" y="572.00" font-size="8" fill="#333" text-anchor="middle">*</text>
<line x1="72.50" y1="519.30" x2="82.50" y2="519.30" stroke="#6cb33f" stroke-width="1.1"/>
<circle cx="77.50" cy="519.30" r="2.00" fill="#6cb33f"/>
<text x="85.70" y="522.10" font-size="8.2" fill="#333" textLength="18.50" lengthAdjust="spacingAndGlyphs">4-IPP</text>
<line x1="72.50" y1="530.50" x2="82.50" y2="530.50" stroke="#1f3f88" stroke-width="1.1"/>
<rect x="75.50" y="528.50" width="4.00" height="4.00" fill="#1f3f88"/>
<text x="85.70" y="533.30" font-size="8.2" fill="#333" textLength="12.00" lengthAdjust="spacingAndGlyphs">Cfz</text>
<line x1="72.50" y1="542.50" x2="82.50" y2="542.50" stroke="#b3153d" stroke-width="1.1"/>
<polygon points="77.50,540.52 79.30,543.76 75.70,543.76" fill="#b3153d"/>
<text x="85.70" y="545.30" font-size="8.2" fill="#333" textLength="36.00" lengthAdjust="spacingAndGlyphs">4-IPP+Cfz</text>
<text x="189.20" y="514.30" font-size="12.5" fill="#111" font-weight="bold">P</text>
<line x1="230.00" y1="533.00" x2="230.00" y2="629.40" stroke="#3a3a3a" stroke-width="1.8"/>
<line x1="229.10" y1="626.60" x2="370.00" y2="626.60" stroke="#1a1a1a" stroke-width="1.2"/>
<line x1="227.20" y1="626.80" x2="229.50" y2="626.80" stroke="#333" stroke-width="1"/>
<text x="225.00" y="629.60" font-size="8.2" fill="#333" text-anchor="end" textLength="4.30" lengthAdjust="spacingAndGlyphs">0</text>
<line x1="227.20" y1="584.30" x2="229.50" y2="584.30" stroke="#333" stroke-width="1"/>
<text x="225.00" y="587.10" font-size="8.2" fill="#333" text-anchor="end" textLength="9.20" lengthAdjust="spacingAndGlyphs">50</text>
<line x1="227.20" y1="541.80" x2="229.50" y2="541.80" stroke="#333" stroke-width="1"/>
<text x="225.00" y="544.60" font-size="8.2" fill="#333" text-anchor="end" textLength="14.00" lengthAdjust="spacingAndGlyphs">100</text>
<line x1="230.50" y1="626.80" x2="230.50" y2="629.60" stroke="#333" stroke-width="1"/>
<text x="230.50" y="640.40" font-size="8.2" fill="#333" text-anchor="middle" textLength="4.30" lengthAdjust="spacingAndGlyphs">0</text>
<line x1="255.80" y1="626.80" x2="255.80" y2="629.60" stroke="#333" stroke-width="1"/>
<text x="255.80" y="640.40" font-size="8.2" fill="#333" text-anchor="middle" textLength="8.80" lengthAdjust="spacingAndGlyphs">10</text>
<line x1="281.10" y1="626.80" x2="281.10" y2="629.60" stroke="#333" stroke-width="1"/>
<text x="281.10" y="640.40" font-size="8.2" fill="#333" text-anchor="middle" textLength="8.80" lengthAdjust="spacingAndGlyphs">20</text>
<line x1="306.40" y1="626.80" x2="306.40" y2="629.60" stroke="#333" stroke-width="1"/>
<text x="306.40" y="640.40" font-size="8.2" fill="#333" text-anchor="middle" textLength="8.80" lengthAdjust="spacingAndGlyphs">30</text>
<line x1="331.70" y1="626.80" x2="331.70" y2="629.60" stroke="#333" stroke-width="1"/>
<text x="331.70" y="640.40" font-size="8.2" fill="#333" text-anchor="middle" textLength="8.80" lengthAdjust="spacingAndGlyphs">40</text>
<line x1="357.00" y1="626.80" x2="357.00" y2="629.60" stroke="#333" stroke-width="1"/>
<text x="357.00" y="640.40" font-size="8.2" fill="#333" text-anchor="middle" textLength="8.80" lengthAdjust="spacingAndGlyphs">50</text>
<text x="300.00" y="653.50" font-size="9" fill="#333" text-anchor="middle" textLength="16.80" lengthAdjust="spacingAndGlyphs">Days</text>
<text x="204.30" y="579.80" font-size="8.2" fill="#333" text-anchor="middle" textLength="54.50" lengthAdjust="spacingAndGlyphs" transform="rotate(-90 204.30 579.80)">Percent survival</text>
<polyline points="230.50,541.80 331.50,541.80 331.50,584.30 341.80,584.30 341.80,612.77 344.40,612.77 344.40,626.80" fill="none" stroke="#1f3f88" stroke-width="1.3"/>
<polyline points="331.50,541.80 341.80,541.80 341.80,553.70 344.30,553.70 344.30,566.02 346.80,566.02 346.80,577.92 356.50,577.92" fill="none" stroke="#b3153d" stroke-width="1.3"/>
<polyline points="230.50,541.80 331.60,541.80 331.60,553.70 342.40,553.70 342.40,590.25 344.60,590.25 344.60,614.05 356.50,614.05" fill="none" stroke="#6cb33f" stroke-width="1.3"/>
<polygon points="357.00,576.50 358.30,578.83 355.70,578.83" fill="#b3153d"/>
<polygon points="357.00,612.62 358.30,614.96 355.70,614.96" fill="#6cb33f"/>
<line x1="360.50" y1="578.80" x2="360.50" y2="614.30" stroke="#222" stroke-width="1"/>
<text x="360.60" y="595.30" font-size="8" fill="#333" text-anchor="middle" transform="rotate(90 360.60 595.30)">**</text>
<line x1="244.50" y1="578.30" x2="253.80" y2="578.30" stroke="#6cb33f" stroke-width="1.1"/>
<polygon points="249.00,577.09 250.10,579.07 247.90,579.07" fill="#6cb33f"/>
<text x="257.00" y="581.10" font-size="8.2" fill="#333" textLength="18.50" lengthAdjust="spacingAndGlyphs">4-IPP</text>
<line x1="244.50" y1="590.50" x2="253.80" y2="590.50" stroke="#1f3f88" stroke-width="1.1"/>
<polygon points="249.00,589.29 250.10,591.27 247.90,591.27" fill="#1f3f88"/>
<text x="257.00" y="593.30" font-size="8.2" fill="#333" textLength="12.00" lengthAdjust="spacingAndGlyphs">Cfz</text>
<line x1="244.50" y1="602.00" x2="253.80" y2="602.00" stroke="#b3153d" stroke-width="1.1"/>
<polygon points="249.00,600.79 250.10,602.77 247.90,602.77" fill="#b3153d"/>
<text x="257.00" y="604.80" font-size="8.2" fill="#333" textLength="36.00" lengthAdjust="spacingAndGlyphs">4-IPP+Cfz</text>
<text x="380.80" y="515.20" font-size="12.5" fill="#111" font-weight="bold">Q</text>
<line x1="420.00" y1="528.00" x2="420.00" y2="627.40" stroke="#3a3a3a" stroke-width="1.8"/>
<line x1="419.10" y1="626.60" x2="511.50" y2="626.60" stroke="#1a1a1a" stroke-width="1.2"/>
<line x1="416.90" y1="626.80" x2="419.50" y2="626.80" stroke="#333" stroke-width="1"/>
<text x="413.80" y="629.60" font-size="8.2" fill="#333" text-anchor="end" textLength="4.30" lengthAdjust="spacingAndGlyphs">0</text>
<line x1="416.90" y1="595.10" x2="419.50" y2="595.10" stroke="#333" stroke-width="1"/>
<text x="413.80" y="597.90" font-size="8.2" fill="#333" text-anchor="end" textLength="8.80" lengthAdjust="spacingAndGlyphs">20</text>
<line x1="416.90" y1="563.40" x2="419.50" y2="563.40" stroke="#333" stroke-width="1"/>
<text x="413.80" y="566.20" font-size="8.2" fill="#333" text-anchor="end" textLength="8.80" lengthAdjust="spacingAndGlyphs">40</text>
<line x1="416.90" y1="531.70" x2="419.50" y2="531.70" stroke="#333" stroke-width="1"/>
<text x="413.80" y="534.50" font-size="8.2" fill="#333" text-anchor="end" textLength="8.80" lengthAdjust="spacingAndGlyphs">60</text>
<line x1="431.30" y1="626.80" x2="431.30" y2="629.60" stroke="#333" stroke-width="1"/>
<text x="431.30" y="640.40" font-size="8.2" fill="#333" text-anchor="middle" textLength="8.80" lengthAdjust="spacingAndGlyphs">16</text>
<line x1="453.80" y1="626.80" x2="453.80" y2="629.60" stroke="#333" stroke-width="1"/>
<text x="453.80" y="640.40" font-size="8.2" fill="#333" text-anchor="middle" textLength="8.80" lengthAdjust="spacingAndGlyphs">23</text>
<line x1="476.30" y1="626.80" x2="476.30" y2="629.60" stroke="#333" stroke-width="1"/>
<text x="476.30" y="640.40" font-size="8.2" fill="#333" text-anchor="middle" textLength="8.80" lengthAdjust="spacingAndGlyphs">30</text>
<line x1="499.30" y1="626.80" x2="499.30" y2="629.60" stroke="#333" stroke-width="1"/>
<text x="499.30" y="640.40" font-size="8.2" fill="#333" text-anchor="middle" textLength="8.80" lengthAdjust="spacingAndGlyphs">37</text>
<text x="465.50" y="653.00" font-size="9" fill="#333" text-anchor="middle" textLength="16.80" lengthAdjust="spacingAndGlyphs">Days</text>
<text x="398.80" y="576.60" font-size="8.2" fill="#333" text-anchor="middle" textLength="49.30" lengthAdjust="spacingAndGlyphs" transform="rotate(-90 398.80 576.60)">Tumor burden</text>
<line x1="431.30" y1="622.00" x2="431.30" y2="620.00" stroke="#4b1f63" stroke-width="0.9"/>
<line x1="429.50" y1="620.00" x2="433.10" y2="620.00" stroke="#4b1f63" stroke-width="0.9"/>
<line x1="431.30" y1="622.00" x2="431.30" y2="624.00" stroke="#4b1f63" stroke-width="0.9"/>
<line x1="429.50" y1="624.00" x2="433.10" y2="624.00" stroke="#4b1f63" stroke-width="0.9"/>
<line x1="453.80" y1="611.30" x2="453.80" y2="609.50" stroke="#4b1f63" stroke-width="0.9"/>
<line x1="452.00" y1="609.50" x2="455.60" y2="609.50" stroke="#4b1f63" stroke-width="0.9"/>
<line x1="453.80" y1="611.30" x2="453.80" y2="613.00" stroke="#4b1f63" stroke-width="0.9"/>
<line x1="452.00" y1="613.00" x2="455.60" y2="613.00" stroke="#4b1f63" stroke-width="0.9"/>
<line x1="476.30" y1="592.00" x2="476.30" y2="584.00" stroke="#4b1f63" stroke-width="0.9"/>
<line x1="474.50" y1="584.00" x2="478.10" y2="584.00" stroke="#4b1f63" stroke-width="0.9"/>
<line x1="476.30" y1="592.00" x2="476.30" y2="600.00" stroke="#4b1f63" stroke-width="0.9"/>
<line x1="474.50" y1="600.00" x2="478.10" y2="600.00" stroke="#4b1f63" stroke-width="0.9"/>
<line x1="499.30" y1="548.30" x2="499.30" y2="536.80" stroke="#4b1f63" stroke-width="0.9"/>
<line x1="497.50" y1="536.80" x2="501.10" y2="536.80" stroke="#4b1f63" stroke-width="0.9"/>
<line x1="499.30" y1="548.30" x2="499.30" y2="560.00" stroke="#4b1f63" stroke-width="0.9"/>
<line x1="497.50" y1="560.00" x2="501.10" y2="560.00" stroke="#4b1f63" stroke-width="0.9"/>
<line x1="431.30" y1="621.80" x2="431.30" y2="620.50" stroke="#1f3f88" stroke-width="0.9"/>
<line x1="429.50" y1="620.50" x2="433.10" y2="620.50" stroke="#1f3f88" stroke-width="0.9"/>
<line x1="431.30" y1="621.80" x2="431.30" y2="623.00" stroke="#1f3f88" stroke-width="0.9"/>
<line x1="429.50" y1="623.00" x2="433.10" y2="623.00" stroke="#1f3f88" stroke-width="0.9"/>
<line x1="453.80" y1="612.50" x2="453.80" y2="611.00" stroke="#1f3f88" stroke-width="0.9"/>
<line x1="452.00" y1="611.00" x2="455.60" y2="611.00" stroke="#1f3f88" stroke-width="0.9"/>
<line x1="453.80" y1="612.50" x2="453.80" y2="614.00" stroke="#1f3f88" stroke-width="0.9"/>
<line x1="452.00" y1="614.00" x2="455.60" y2="614.00" stroke="#1f3f88" stroke-width="0.9"/>
<line x1="476.30" y1="589.50" x2="476.30" y2="578.00" stroke="#1f3f88" stroke-width="0.9"/>
<line x1="474.50" y1="578.00" x2="478.10" y2="578.00" stroke="#1f3f88" stroke-width="0.9"/>
<line x1="476.30" y1="589.50" x2="476.30" y2="600.00" stroke="#1f3f88" stroke-width="0.9"/>
<line x1="474.50" y1="600.00" x2="478.10" y2="600.00" stroke="#1f3f88" stroke-width="0.9"/>
<line x1="499.30" y1="564.30" x2="499.30" y2="557.50" stroke="#1f3f88" stroke-width="0.9"/>
<line x1="497.50" y1="557.50" x2="501.10" y2="557.50" stroke="#1f3f88" stroke-width="0.9"/>
<line x1="499.30" y1="564.30" x2="499.30" y2="570.50" stroke="#1f3f88" stroke-width="0.9"/>
<line x1="497.50" y1="570.50" x2="501.10" y2="570.50" stroke="#1f3f88" stroke-width="0.9"/>
<line x1="431.30" y1="622.50" x2="431.30" y2="621.00" stroke="#6cb33f" stroke-width="0.9"/>
<line x1="429.50" y1="621.00" x2="433.10" y2="621.00" stroke="#6cb33f" stroke-width="0.9"/>
<line x1="431.30" y1="622.50" x2="431.30" y2="624.00" stroke="#6cb33f" stroke-width="0.9"/>
<line x1="429.50" y1="624.00" x2="433.10" y2="624.00" stroke="#6cb33f" stroke-width="0.9"/>
<line x1="453.80" y1="614.30" x2="453.80" y2="611.50" stroke="#6cb33f" stroke-width="0.9"/>
<line x1="452.00" y1="611.50" x2="455.60" y2="611.50" stroke="#6cb33f" stroke-width="0.9"/>
<line x1="453.80" y1="614.30" x2="453.80" y2="617.00" stroke="#6cb33f" stroke-width="0.9"/>
<line x1="452.00" y1="617.00" x2="455.60" y2="617.00" stroke="#6cb33f" stroke-width="0.9"/>
<line x1="476.30" y1="608.00" x2="476.30" y2="605.00" stroke="#6cb33f" stroke-width="0.9"/>
<line x1="474.50" y1="605.00" x2="478.10" y2="605.00" stroke="#6cb33f" stroke-width="0.9"/>
<line x1="476.30" y1="608.00" x2="476.30" y2="611.30" stroke="#6cb33f" stroke-width="0.9"/>
<line x1="474.50" y1="611.30" x2="478.10" y2="611.30" stroke="#6cb33f" stroke-width="0.9"/>
<line x1="499.30" y1="595.50" x2="499.30" y2="590.50" stroke="#6cb33f" stroke-width="0.9"/>
<line x1="497.50" y1="590.50" x2="501.10" y2="590.50" stroke="#6cb33f" stroke-width="0.9"/>
<line x1="499.30" y1="595.50" x2="499.30" y2="600.00" stroke="#6cb33f" stroke-width="0.9"/>
<line x1="497.50" y1="600.00" x2="501.10" y2="600.00" stroke="#6cb33f" stroke-width="0.9"/>
<line x1="431.30" y1="623.80" x2="431.30" y2="621.50" stroke="#b3153d" stroke-width="0.9"/>
<line x1="429.50" y1="621.50" x2="433.10" y2="621.50" stroke="#b3153d" stroke-width="0.9"/>
<line x1="431.30" y1="623.80" x2="431.30" y2="625.50" stroke="#b3153d" stroke-width="0.9"/>
<line x1="429.50" y1="625.50" x2="433.10" y2="625.50" stroke="#b3153d" stroke-width="0.9"/>
<line x1="453.80" y1="622.50" x2="453.80" y2="620.50" stroke="#b3153d" stroke-width="0.9"/>
<line x1="452.00" y1="620.50" x2="455.60" y2="620.50" stroke="#b3153d" stroke-width="0.9"/>
<line x1="453.80" y1="622.50" x2="453.80" y2="624.50" stroke="#b3153d" stroke-width="0.9"/>
<line x1="452.00" y1="624.50" x2="455.60" y2="624.50" stroke="#b3153d" stroke-width="0.9"/>
<line x1="476.30" y1="620.80" x2="476.30" y2="617.00" stroke="#b3153d" stroke-width="0.9"/>
<line x1="474.50" y1="617.00" x2="478.10" y2="617.00" stroke="#b3153d" stroke-width="0.9"/>
<line x1="476.30" y1="620.80" x2="476.30" y2="624.00" stroke="#b3153d" stroke-width="0.9"/>
<line x1="474.50" y1="624.00" x2="478.10" y2="624.00" stroke="#b3153d" stroke-width="0.9"/>
<line x1="499.30" y1="618.80" x2="499.30" y2="614.30" stroke="#b3153d" stroke-width="0.9"/>
<line x1="497.50" y1="614.30" x2="501.10" y2="614.30" stroke="#b3153d" stroke-width="0.9"/>
<line x1="499.30" y1="618.80" x2="499.30" y2="623.00" stroke="#b3153d" stroke-width="0.9"/>
<line x1="497.50" y1="623.00" x2="501.10" y2="623.00" stroke="#b3153d" stroke-width="0.9"/>
<polyline points="431.30,623.80 453.80,622.50 476.30,620.80 499.30,618.80" fill="none" stroke="#b3153d" stroke-width="1.4"/>
<polyline points="431.30,622.50 453.80,614.30 476.30,608.00 499.30,595.50" fill="none" stroke="#6cb33f" stroke-width="1.4"/>
<polyline points="431.30,621.80 453.80,612.50 476.30,589.50 499.30,564.30" fill="none" stroke="#1f3f88" stroke-width="1.4"/>
<polyline points="431.30,622.00 453.80,611.30 476.30,592.00 499.30,548.30" fill="none" stroke="#4b1f63" stroke-width="1.4"/>
<circle cx="431.30" cy="622.00" r="1.90" fill="#4b1f63"/>
<circle cx="453.80" cy="611.30" r="1.90" fill="#4b1f63"/>
<circle cx="476.30" cy="592.00" r="1.90" fill="#4b1f63"/>
<circle cx="499.30" cy="548.30" r="1.90" fill="#4b1f63"/>
<rect x="429.60" y="620.10" width="3.40" height="3.40" fill="#1f3f88"/>
<rect x="452.10" y="610.80" width="3.40" height="3.40" fill="#1f3f88"/>
<rect x="474.60" y="587.80" width="3.40" height="3.40" fill="#1f3f88"/>
<rect x="497.60" y="562.60" width="3.40" height="3.40" fill="#1f3f88"/>
<polygon points="431.30,620.41 433.20,623.83 429.40,623.83" fill="#6cb33f"/>
<polygon points="453.80,612.21 455.70,615.63 451.90,615.63" fill="#6cb33f"/>
<polygon points="476.30,605.91 478.20,609.33 474.40,609.33" fill="#6cb33f"/>
<polygon points="499.30,593.41 501.20,596.83 497.40,596.83" fill="#6cb33f"/>
<polygon points="431.30,625.89 433.20,622.47 429.40,622.47" fill="#b3153d"/>
<polygon points="453.80,624.59 455.70,621.17 451.90,621.17" fill="#b3153d"/>
<polygon points="476.30,622.89 478.20,619.47 474.40,619.47" fill="#b3153d"/>
<polygon points="499.30,620.89 501.20,617.47 497.40,617.47" fill="#b3153d"/>
<line x1="506.30" y1="593.80" x2="506.30" y2="617.30" stroke="#222" stroke-width="1"/>
<text x="510.30" y="609.00" font-size="8" fill="#333" text-anchor="middle">*</text>
<line x1="426.80" y1="530.80" x2="436.80" y2="530.80" stroke="#4b1f63" stroke-width="1.1"/>
<circle cx="431.80" cy="530.80" r="2.00" fill="#4b1f63"/>
<text x="439.50" y="533.60" font-size="8.2" fill="#333" textLength="13.00" lengthAdjust="spacingAndGlyphs">Veh</text>
<line x1="426.80" y1="542.50" x2="436.80" y2="542.50" stroke="#1f3f88" stroke-width="1.1"/>
<rect x="429.80" y="540.50" width="4.00" height="4.00" fill="#1f3f88"/>
<text x="439.50" y="545.30" font-size="8.2" fill="#333" textLength="18.50" lengthAdjust="spacingAndGlyphs">4-IPP</text>
<line x1="426.80" y1="554.30" x2="436.80" y2="554.30" stroke="#6cb33f" stroke-width="1.1"/>
<polygon points="431.80,552.32 433.60,555.56 430.00,555.56" fill="#6cb33f"/>
<text x="439.50" y="557.10" font-size="8.2" fill="#333" textLength="12.00" lengthAdjust="spacingAndGlyphs">Cfz</text>
<line x1="426.80" y1="565.50" x2="436.80" y2="565.50" stroke="#b3153d" stroke-width="1.1"/>
<polygon points="431.80,567.48 433.60,564.24 430.00,564.24" fill="#b3153d"/>
<text x="439.50" y="568.30" font-size="8.2" fill="#333" textLength="34.50" lengthAdjust="spacingAndGlyphs">4-IPP+Cfz</text>
</svg></div></body></html>
